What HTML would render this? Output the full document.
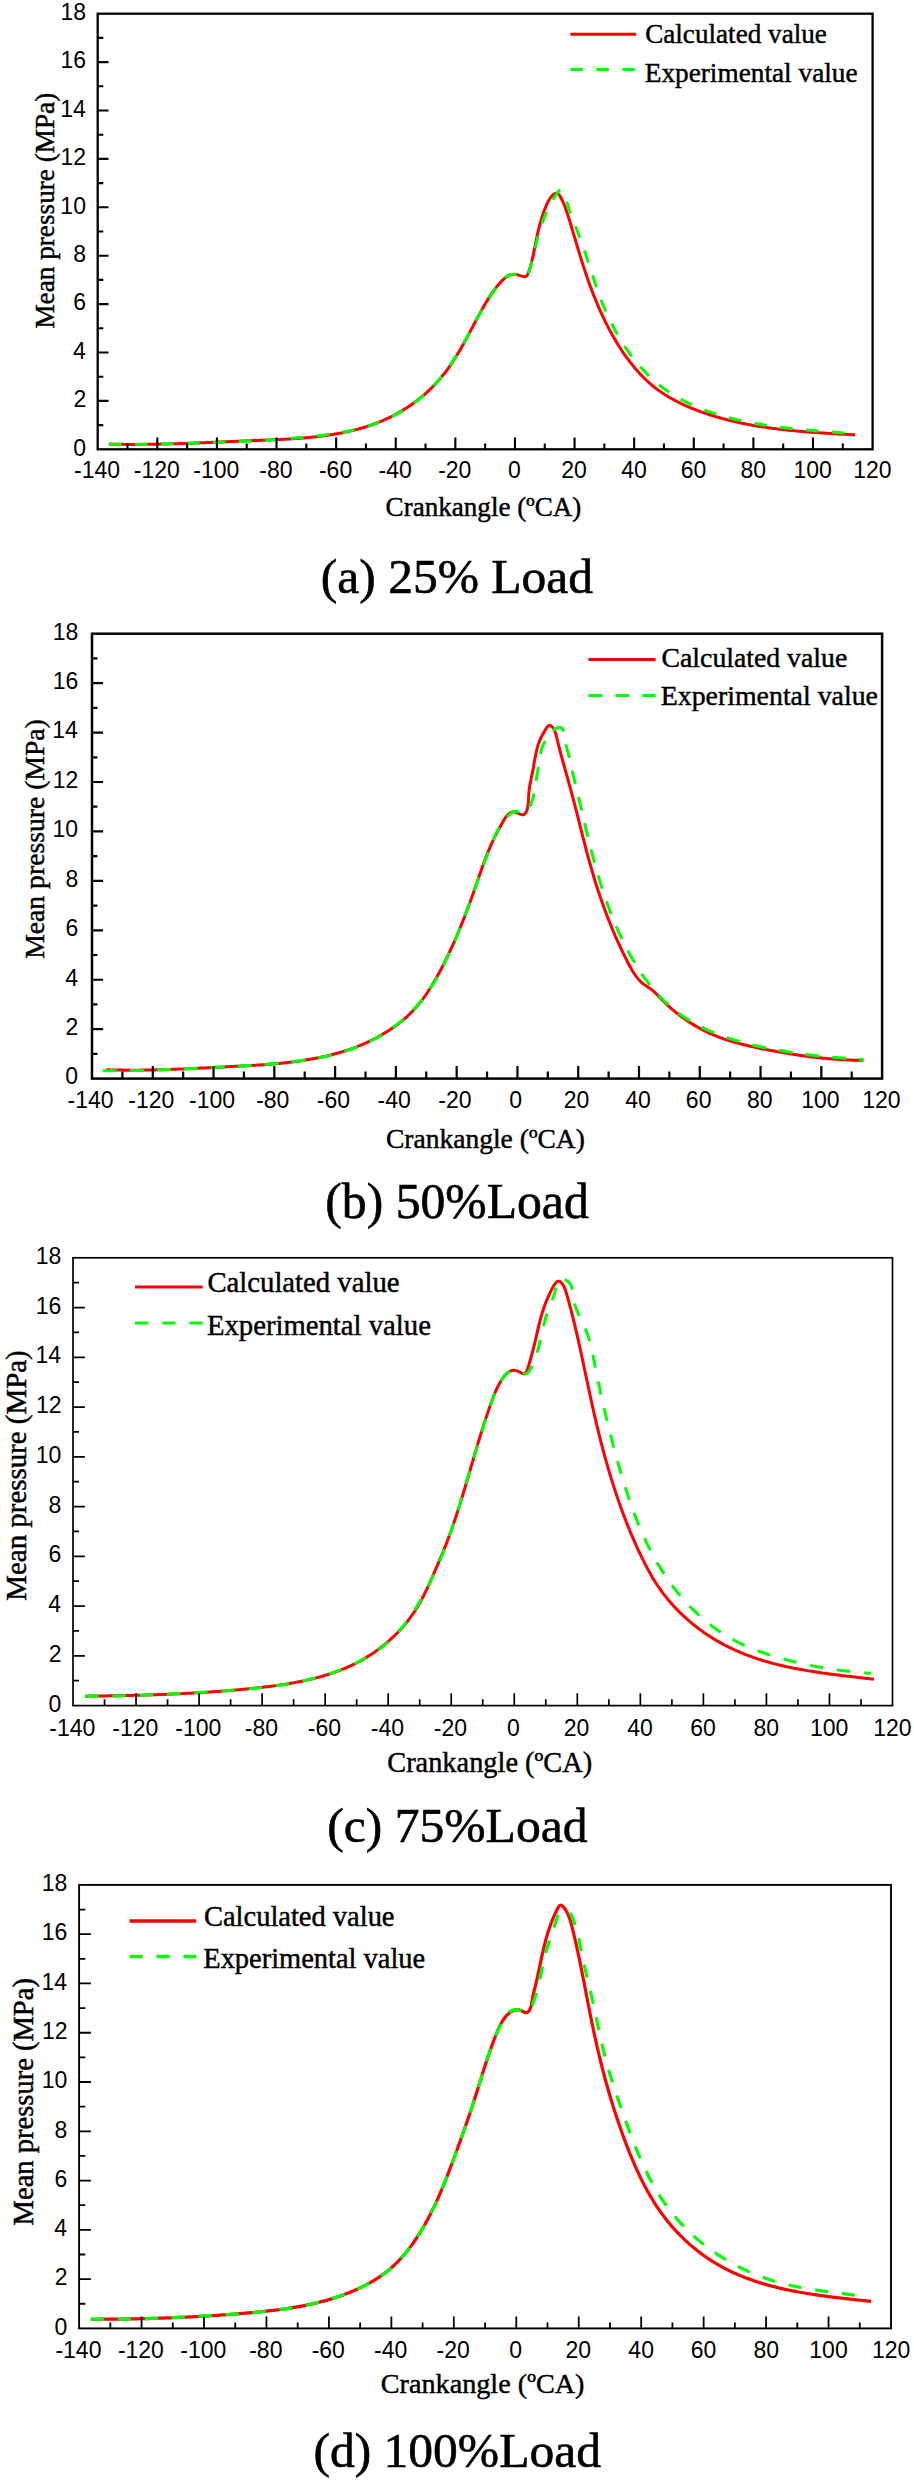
<!DOCTYPE html>
<html><head><meta charset="utf-8"><title>Mean pressure vs crank angle at 25/50/75/100% load</title>
<style>
html,body{margin:0;padding:0;background:#fff;width:914px;height:2480px;overflow:hidden}
svg{display:block}
.s{font-family:"Liberation Sans",sans-serif;fill:#000}
.r{font-family:"Liberation Serif",serif;fill:#000;stroke:#000;stroke-width:.45px}
.c{stroke-width:.6px}
</style></head><body>
<svg width="914" height="2480" viewBox="0 0 914 2480">
<rect width="914" height="2480" fill="#fff"/>
<polyline points="108.79,444.11 110.31,444.14 111.84,444.18 113.37,444.21 114.89,444.24 116.42,444.27 117.94,444.29 119.46,444.31 120.98,444.33 122.5,444.35 124.02,444.37 125.53,444.38 127.05,444.39 128.56,444.4 130.07,444.4 131.58,444.41 133.09,444.41 134.6,444.41 136.11,444.41 137.61,444.4 139.12,444.4 140.62,444.39 142.12,444.38 143.63,444.37 145.13,444.35 146.63,444.34 148.13,444.32 149.63,444.3 151.12,444.28 152.62,444.26 154.12,444.24 155.61,444.21 157.11,444.18 158.6,444.15 160.1,444.12 161.59,444.09 163.08,444.06 164.57,444.02 166.06,443.99 167.55,443.95 169.04,443.91 170.53,443.87 172.02,443.83 173.51,443.79 175,443.74 176.49,443.7 177.98,443.65 179.46,443.6 180.95,443.56 182.44,443.51 183.93,443.46 185.41,443.4 186.9,443.35 188.39,443.3 189.87,443.24 191.36,443.19 192.84,443.13 194.33,443.08 195.82,443.02 197.3,442.96 198.79,442.9 200.28,442.84 201.76,442.78 203.25,442.72 204.74,442.66 206.22,442.6 207.71,442.54 209.2,442.48 210.69,442.41 212.17,442.35 213.66,442.29 215.15,442.22 216.64,442.16 218.13,442.1 219.62,442.03 221.11,441.97 222.6,441.9 224.09,441.84 225.59,441.77 227.08,441.71 228.57,441.64 230.07,441.57 231.56,441.51 233.06,441.44 234.55,441.38 236.05,441.31 237.55,441.25 239.05,441.19 240.54,441.12 242.05,441.06 243.55,440.99 245.05,440.93 246.55,440.87 248.06,440.8 249.56,440.74 251.07,440.68 252.57,440.62 254.08,440.56 255.59,440.5 257.1,440.44 258.61,440.38 260.13,440.32 261.64,440.26 263.15,440.2 264.67,440.14 266.18,440.08 267.7,440.01 269.21,439.95 270.73,439.89 272.24,439.82 273.76,439.75 275.28,439.69 276.8,439.62 278.31,439.55 279.83,439.47 281.35,439.4 282.87,439.32 284.38,439.24 285.9,439.16 287.42,439.07 288.93,438.98 290.45,438.89 291.96,438.8 293.48,438.7 294.99,438.6 296.51,438.49 298.02,438.39 299.53,438.27 301.04,438.16 302.55,438.04 304.06,437.91 305.57,437.78 307.08,437.65 308.58,437.51 310.09,437.37 311.59,437.22 313.09,437.07 314.59,436.91 316.09,436.75 317.59,436.58 319.09,436.4 320.58,436.22 322.07,436.03 323.57,435.84 325.05,435.64 326.54,435.43 328.03,435.22 329.51,435 330.99,434.77 332.47,434.54 333.95,434.3 335.42,434.05 336.89,433.79 338.36,433.53 339.83,433.26 341.29,432.98 342.75,432.69 344.21,432.4 345.67,432.09 347.12,431.78 348.57,431.46 350.02,431.13 351.46,430.79 352.91,430.44 354.34,430.09 355.78,429.72 357.21,429.34 358.64,428.96 360.06,428.56 361.49,428.15 362.9,427.74 364.32,427.31 365.73,426.87 367.14,426.43 368.54,425.97 369.94,425.5 371.34,425.02 372.73,424.53 374.12,424.03 375.5,423.51 376.88,422.99 378.26,422.45 379.63,421.9 380.99,421.34 382.36,420.76 383.71,420.18 385.07,419.58 386.42,418.97 387.76,418.34 389.1,417.71 390.43,417.06 391.76,416.39 393.09,415.72 394.41,415.03 395.72,414.33 397.03,413.61 398.33,412.88 399.63,412.14 400.92,411.39 402.21,410.63 403.48,409.85 404.76,409.06 406.02,408.26 407.28,407.44 408.53,406.62 409.77,405.78 411.01,404.93 412.23,404.07 413.45,403.19 414.67,402.31 415.87,401.41 417.07,400.5 418.25,399.59 419.43,398.65 420.6,397.71 421.76,396.76 422.91,395.8 424.06,394.82 425.19,393.84 426.31,392.84 427.42,391.83 428.53,390.81 429.62,389.79 430.7,388.75 431.77,387.7 432.83,386.64 433.88,385.57 434.92,384.49 435.95,383.4 436.96,382.3 437.97,381.19 438.96,380.07 439.94,378.94 440.91,377.8 441.87,376.65 442.81,375.5 443.74,374.33 444.66,373.15 445.57,371.97 446.47,370.78 447.35,369.58 448.23,368.37 449.1,367.15 449.95,365.93 450.8,364.69 451.64,363.46 452.47,362.21 453.29,360.96 454.1,359.7 454.9,358.44 455.7,357.17 456.49,355.89 457.27,354.61 458.04,353.33 458.81,352.04 459.57,350.75 460.33,349.45 461.08,348.14 461.83,346.84 462.57,345.53 463.3,344.21 464.04,342.9 464.76,341.58 465.49,340.26 466.21,338.93 466.93,337.61 467.64,336.28 468.36,334.95 469.07,333.62 469.78,332.29 470.49,330.96 471.19,329.63 471.9,328.29 472.6,326.96 473.31,325.63 474.01,324.29 474.72,322.96 475.43,321.63 476.13,320.3 476.84,318.97 477.55,317.65 478.27,316.32 478.98,315 479.7,313.68 480.42,312.36 481.14,311.05 481.87,309.73 482.6,308.43 483.34,307.12 484.08,305.82 484.83,304.53 485.58,303.24 486.34,301.95 487.11,300.67 487.89,299.4 488.68,298.14 489.49,296.88 490.3,295.64 491.13,294.4 491.97,293.17 492.82,291.95 493.69,290.74 494.58,289.54 495.48,288.35 496.4,287.17 497.34,286.01 498.3,284.86 499.28,283.72 500.28,282.6 501.3,281.49 502.35,280.41 503.43,279.38 504.53,278.41 505.67,277.51 506.85,276.69 508.06,275.98 509.31,275.37 510.61,274.89 511.95,274.56 513.34,274.37 514.79,274.36 516.28,274.53 517.84,274.88 519.43,275.39 521,275.93 522.53,276.39 523.95,276.67 525.23,276.64 526.31,276.21 527.18,275.31 527.88,274.06 528.47,272.6 529,271.07 529.49,269.54 529.96,268.03 530.41,266.52 530.84,265.03 531.24,263.54 531.63,262.06 532,260.59 532.35,259.12 532.69,257.65 533.01,256.19 533.33,254.73 533.64,253.27 533.93,251.81 534.23,250.34 534.52,248.88 534.8,247.41 535.09,245.94 535.37,244.46 535.66,242.98 535.95,241.5 536.24,240.02 536.53,238.54 536.84,237.07 537.15,235.6 537.46,234.14 537.79,232.68 538.13,231.23 538.47,229.79 538.83,228.35 539.19,226.92 539.57,225.49 539.96,224.07 540.36,222.65 540.78,221.23 541.2,219.82 541.64,218.4 542.09,216.99 542.56,215.58 543.04,214.16 543.54,212.75 544.05,211.33 544.57,209.91 545.12,208.49 545.67,207.07 546.25,205.64 546.86,204.22 547.51,202.82 548.21,201.43 548.97,200.07 549.79,198.75 550.69,197.46 551.67,196.23 552.73,195.09 553.84,194.15 554.98,193.5 556.12,193.25 557.22,193.43 558.26,194.01 559.2,194.97 560.05,196.19 560.82,197.56 561.56,198.97 562.25,200.38 562.9,201.8 563.53,203.21 564.12,204.62 564.69,206.03 565.23,207.44 565.75,208.86 566.25,210.27 566.73,211.68 567.2,213.1 567.66,214.51 568.11,215.93 568.56,217.35 569,218.77 569.44,220.2 569.88,221.62 570.31,223.05 570.75,224.48 571.18,225.91 571.61,227.34 572.04,228.77 572.47,230.21 572.9,231.64 573.33,233.08 573.76,234.51 574.19,235.95 574.61,237.39 575.04,238.83 575.47,240.27 575.89,241.71 576.32,243.14 576.75,244.58 577.18,246.02 577.61,247.46 578.04,248.9 578.47,250.34 578.91,251.78 579.35,253.22 579.78,254.66 580.22,256.09 580.67,257.53 581.11,258.96 581.56,260.4 582.01,261.83 582.46,263.26 582.92,264.69 583.37,266.12 583.84,267.55 584.3,268.98 584.77,270.4 585.24,271.82 585.72,273.24 586.2,274.66 586.68,276.08 587.17,277.5 587.66,278.91 588.16,280.32 588.66,281.74 589.16,283.14 589.67,284.55 590.18,285.96 590.7,287.36 591.22,288.76 591.75,290.16 592.28,291.56 592.82,292.95 593.36,294.34 593.91,295.73 594.46,297.12 595.01,298.5 595.57,299.89 596.14,301.27 596.71,302.65 597.29,304.02 597.88,305.39 598.47,306.77 599.06,308.13 599.66,309.5 600.27,310.86 600.88,312.22 601.5,313.58 602.13,314.93 602.76,316.28 603.4,317.63 604.04,318.98 604.69,320.32 605.35,321.66 606.02,323 606.69,324.33 607.37,325.66 608.05,326.99 608.75,328.31 609.45,329.63 610.15,330.95 610.87,332.26 611.59,333.57 612.32,334.88 613.06,336.19 613.8,337.49 614.56,338.78 615.32,340.08 616.08,341.37 616.86,342.65 617.65,343.93 618.44,345.21 619.24,346.49 620.05,347.76 620.87,349.02 621.69,350.29 622.53,351.54 623.37,352.79 624.23,354.04 625.09,355.28 625.96,356.51 626.84,357.74 627.73,358.96 628.63,360.17 629.54,361.37 630.46,362.57 631.38,363.76 632.32,364.94 633.27,366.11 634.22,367.27 635.19,368.42 636.17,369.57 637.15,370.7 638.15,371.82 639.16,372.93 640.18,374.03 641.21,375.12 642.25,376.2 643.3,377.26 644.36,378.32 645.43,379.36 646.51,380.38 647.6,381.4 648.71,382.4 649.82,383.39 650.95,384.36 652.09,385.32 653.24,386.26 654.4,387.19 655.58,388.1 656.76,389 657.96,389.88 659.16,390.75 660.38,391.61 661.61,392.45 662.84,393.28 664.09,394.09 665.34,394.89 666.61,395.68 667.88,396.45 669.17,397.21 670.46,397.96 671.75,398.69 673.06,399.42 674.38,400.13 675.7,400.83 677.03,401.51 678.36,402.19 679.7,402.85 681.05,403.5 682.4,404.15 683.76,404.78 685.13,405.4 686.5,406.01 687.88,406.61 689.26,407.2 690.64,407.77 692.03,408.34 693.42,408.9 694.82,409.46 696.22,410 697.62,410.53 699.03,411.05 700.44,411.57 701.85,412.08 703.26,412.57 704.68,413.06 706.1,413.55 707.52,414.02 708.94,414.49 710.36,414.95 711.79,415.4 713.22,415.84 714.65,416.28 716.08,416.7 717.51,417.13 718.95,417.54 720.39,417.94 721.83,418.34 723.27,418.74 724.71,419.12 726.16,419.5 727.6,419.87 729.05,420.23 730.5,420.59 731.95,420.94 733.41,421.28 734.86,421.62 736.32,421.95 737.78,422.28 739.24,422.6 740.7,422.91 742.16,423.22 743.63,423.52 745.09,423.81 746.56,424.1 748.03,424.38 749.49,424.66 750.97,424.93 752.44,425.2 753.91,425.46 755.38,425.71 756.86,425.96 758.34,426.21 759.81,426.45 761.29,426.68 762.77,426.91 764.25,427.14 765.73,427.36 767.22,427.58 768.7,427.79 770.18,427.99 771.67,428.19 773.15,428.39 774.64,428.59 776.13,428.77 777.62,428.96 779.1,429.14 780.59,429.32 782.08,429.49 783.57,429.66 785.07,429.82 786.56,429.99 788.05,430.14 789.54,430.3 791.04,430.45 792.53,430.6 794.02,430.74 795.52,430.88 797.01,431.02 798.51,431.16 800,431.29 801.5,431.42 802.99,431.55 804.49,431.67 805.99,431.79 807.48,431.91 808.98,432.03 810.47,432.14 811.97,432.25 813.47,432.36 814.96,432.47 816.46,432.57 817.96,432.68 819.45,432.78 820.95,432.88 822.44,432.98 823.94,433.07 825.44,433.17 826.93,433.26 828.43,433.35 829.92,433.44 831.41,433.53 832.91,433.62 834.4,433.71 835.89,433.79 837.39,433.88 838.88,433.96 840.37,434.04 841.86,434.13 843.35,434.21 844.84,434.29 846.33,434.37 847.82,434.45 849.31,434.53 850.79,434.61 852.28,434.69 853.76,434.77 855.25,434.85" fill="none" stroke="#f00" stroke-width="3" stroke-linejoin="round"/>
<polyline points="109.05,444.28 110.54,444.3 112.03,444.31 113.52,444.32 115.01,444.33 116.5,444.33 117.99,444.34 119.48,444.34 120.97,444.35 122.46,444.35 123.96,444.35 125.45,444.35 126.94,444.34 128.44,444.34 129.93,444.33 131.43,444.33 132.93,444.32 134.42,444.31 135.92,444.3 137.42,444.29 138.92,444.28 140.41,444.26 141.91,444.25 143.41,444.23 144.91,444.21 146.41,444.19 147.91,444.17 149.41,444.15 150.91,444.13 152.41,444.11 153.91,444.08 155.41,444.06 156.92,444.03 158.42,444 159.92,443.98 161.42,443.95 162.92,443.92 164.42,443.89 165.93,443.85 167.43,443.82 168.93,443.79 170.43,443.75 171.94,443.72 173.44,443.68 174.94,443.64 176.44,443.61 177.94,443.57 179.45,443.53 180.95,443.49 182.45,443.44 183.95,443.4 185.45,443.36 186.96,443.32 188.46,443.27 189.96,443.23 191.46,443.18 192.96,443.14 194.46,443.09 195.96,443.04 197.46,442.99 198.96,442.94 200.46,442.9 201.96,442.85 203.46,442.8 204.96,442.74 206.45,442.69 207.95,442.64 209.45,442.59 210.94,442.54 212.44,442.48 213.94,442.43 215.43,442.38 216.93,442.32 218.42,442.27 219.92,442.21 221.41,442.16 222.9,442.1 224.39,442.04 225.89,441.99 227.38,441.93 228.87,441.87 230.36,441.81 231.85,441.75 233.34,441.69 234.83,441.63 236.32,441.57 237.81,441.5 239.3,441.44 240.79,441.37 242.28,441.31 243.77,441.24 245.26,441.17 246.75,441.1 248.23,441.03 249.72,440.96 251.21,440.89 252.7,440.82 254.19,440.74 255.68,440.66 257.17,440.59 258.65,440.51 260.14,440.43 261.63,440.35 263.12,440.26 264.61,440.18 266.1,440.09 267.59,440 269.08,439.91 270.57,439.82 272.06,439.73 273.55,439.63 275.04,439.54 276.54,439.44 278.03,439.34 279.52,439.23 281.01,439.13 282.51,439.02 284,438.92 285.49,438.81 286.99,438.69 288.48,438.58 289.98,438.46 291.47,438.34 292.97,438.22 294.47,438.1 295.97,437.97 297.47,437.84 298.96,437.71 300.47,437.58 301.97,437.45 303.47,437.31 304.97,437.17 306.47,437.02 307.98,436.88 309.48,436.73 310.99,436.58 312.49,436.42 313.99,436.26 315.5,436.1 317,435.93 318.51,435.76 320.01,435.58 321.52,435.4 323.02,435.22 324.52,435.03 326.02,434.83 327.52,434.63 329.02,434.42 330.52,434.21 332.02,433.99 333.51,433.76 335.01,433.53 336.5,433.29 337.99,433.05 339.48,432.8 340.96,432.54 342.45,432.27 343.93,431.99 345.41,431.71 346.89,431.42 348.36,431.12 349.83,430.81 351.3,430.49 352.77,430.17 354.23,429.83 355.69,429.49 357.15,429.14 358.6,428.77 360.05,428.4 361.49,428.02 362.93,427.62 364.37,427.22 365.81,426.8 367.23,426.38 368.66,425.94 370.08,425.49 371.5,425.03 372.91,424.56 374.31,424.08 375.72,423.58 377.11,423.07 378.5,422.55 379.89,422.02 381.27,421.47 382.65,420.92 384.02,420.34 385.38,419.76 386.74,419.16 388.09,418.54 389.44,417.92 390.78,417.27 392.11,416.62 393.44,415.95 394.76,415.26 396.07,414.56 397.38,413.85 398.68,413.12 399.97,412.38 401.26,411.63 402.54,410.86 403.81,410.08 405.07,409.29 406.33,408.48 407.58,407.66 408.82,406.83 410.05,405.98 411.28,405.12 412.49,404.25 413.7,403.37 414.9,402.48 416.09,401.57 417.27,400.65 418.45,399.72 419.61,398.78 420.77,397.82 421.91,396.86 423.05,395.88 424.18,394.89 425.29,393.89 426.4,392.88 427.5,391.86 428.59,390.83 429.67,389.79 430.73,388.73 431.79,387.67 432.84,386.6 433.88,385.51 434.9,384.42 435.92,383.31 436.92,382.2 437.92,381.07 438.9,379.94 439.87,378.8 440.83,377.64 441.78,376.48 442.72,375.31 443.64,374.13 444.56,372.94 445.46,371.75 446.36,370.54 447.24,369.33 448.12,368.11 448.98,366.88 449.84,365.65 450.69,364.41 451.52,363.16 452.35,361.91 453.18,360.65 453.99,359.39 454.8,358.12 455.6,356.84 456.39,355.57 457.17,354.28 457.95,353 458.72,351.71 459.49,350.41 460.25,349.12 461.01,347.82 461.76,346.51 462.51,345.21 463.25,343.9 463.99,342.59 464.72,341.28 465.45,339.97 466.18,338.66 466.9,337.35 467.62,336.04 468.34,334.72 469.06,333.41 469.77,332.1 470.49,330.79 471.2,329.48 471.91,328.17 472.62,326.86 473.33,325.55 474.04,324.24 474.75,322.94 475.46,321.63 476.18,320.33 476.89,319.03 477.61,317.73 478.33,316.43 479.06,315.13 479.79,313.83 480.52,312.54 481.25,311.24 482,309.95 482.74,308.66 483.5,307.37 484.25,306.08 485.02,304.8 485.79,303.52 486.57,302.24 487.35,300.96 488.15,299.68 488.95,298.4 489.76,297.13 490.58,295.86 491.42,294.59 492.26,293.33 493.11,292.06 493.97,290.8 494.84,289.54 495.73,288.29 496.62,287.03 497.53,285.79 498.46,284.56 499.41,283.35 500.37,282.18 501.37,281.05 502.39,279.98 503.44,278.98 504.52,278.05 505.64,277.21 506.81,276.46 508.01,275.81 509.26,275.29 510.56,274.88 511.91,274.61 513.31,274.49 514.78,274.52 516.3,274.72 517.88,275.09 519.5,275.58 521.11,276.08 522.66,276.49 524.1,276.71 525.39,276.62 526.47,276.13 527.34,275.21 528.03,273.95 528.61,272.5 529.13,270.98 529.62,269.46 530.09,267.95 530.54,266.45 530.97,264.95 531.38,263.45 531.78,261.96 532.16,260.47 532.53,258.99 532.89,257.51 533.25,256.04 533.59,254.57 533.94,253.1 534.28,251.64 534.61,250.18 534.95,248.73 535.3,247.27 535.65,245.82 536,244.38 536.35,242.94 536.71,241.5 537.08,240.06 537.46,238.63 537.84,237.2 538.23,235.77 538.62,234.35 539.03,232.93 539.44,231.51 539.87,230.09 540.31,228.68 540.75,227.27 541.21,225.87 541.69,224.46 542.17,223.06 542.67,221.67 543.18,220.27 543.71,218.88 544.25,217.49 544.81,216.1 545.39,214.72 545.98,213.34 546.59,211.96 547.22,210.59 547.87,209.21 548.53,207.84 549.22,206.47 549.93,205.11 550.66,203.74 551.41,202.38 552.18,201.02 552.98,199.67 553.8,198.32 554.63,196.97 555.47,195.65 556.32,194.36 557.16,193.1 557.99,191.93 558.83,190.97 559.67,190.34 560.53,190.2 561.42,190.57 562.29,191.37 563.12,192.49 563.9,193.8 564.58,195.2 565.17,196.62 565.69,198.07 566.15,199.53 566.58,201.01 566.99,202.48 567.41,203.95 567.84,205.41 568.29,206.87 568.75,208.31 569.23,209.76 569.71,211.19 570.21,212.62 570.72,214.05 571.24,215.47 571.76,216.88 572.3,218.29 572.84,219.7 573.38,221.11 573.93,222.51 574.48,223.91 575.03,225.3 575.59,226.7 576.14,228.09 576.7,229.49 577.25,230.88 577.8,232.28 578.34,233.67 578.88,235.06 579.42,236.46 579.95,237.86 580.47,239.26 580.98,240.66 581.49,242.06 582,243.46 582.49,244.87 582.99,246.28 583.48,247.68 583.96,249.09 584.44,250.5 584.92,251.91 585.39,253.32 585.86,254.74 586.33,256.15 586.79,257.56 587.25,258.98 587.71,260.39 588.17,261.81 588.63,263.22 589.09,264.64 589.54,266.06 590,267.47 590.45,268.89 590.91,270.31 591.37,271.72 591.83,273.14 592.29,274.56 592.75,275.97 593.21,277.39 593.67,278.8 594.14,280.22 594.61,281.63 595.09,283.05 595.56,284.46 596.04,285.87 596.53,287.28 597.02,288.69 597.51,290.1 598.01,291.51 598.52,292.92 599.03,294.33 599.55,295.73 600.07,297.13 600.6,298.54 601.14,299.94 601.68,301.34 602.23,302.73 602.79,304.13 603.36,305.52 603.93,306.91 604.52,308.3 605.11,309.69 605.71,311.08 606.32,312.46 606.94,313.84 607.57,315.22 608.2,316.59 608.84,317.96 609.5,319.33 610.16,320.69 610.82,322.05 611.5,323.41 612.19,324.76 612.88,326.11 613.58,327.45 614.3,328.79 615.02,330.12 615.74,331.45 616.48,332.78 617.23,334.1 617.98,335.41 618.75,336.72 619.52,338.02 620.3,339.32 621.09,340.61 621.89,341.9 622.69,343.18 623.51,344.45 624.33,345.71 625.17,346.97 626.01,348.23 626.86,349.47 627.72,350.71 628.59,351.94 629.47,353.16 630.36,354.38 631.25,355.59 632.16,356.79 633.07,357.98 634,359.16 634.93,360.33 635.87,361.5 636.82,362.66 637.78,363.81 638.75,364.94 639.73,366.07 640.72,367.19 641.71,368.3 642.72,369.41 643.73,370.5 644.76,371.58 645.79,372.65 646.83,373.71 647.88,374.76 648.95,375.8 650.02,376.82 651.1,377.84 652.19,378.85 653.28,379.84 654.39,380.82 655.51,381.79 656.64,382.75 657.77,383.7 658.92,384.64 660.08,385.56 661.24,386.47 662.42,387.37 663.6,388.25 664.79,389.12 666,389.98 667.21,390.83 668.43,391.66 669.66,392.49 670.9,393.3 672.15,394.09 673.4,394.88 674.67,395.65 675.94,396.42 677.22,397.17 678.5,397.91 679.8,398.63 681.1,399.35 682.41,400.05 683.73,400.75 685.05,401.43 686.39,402.1 687.72,402.76 689.07,403.41 690.42,404.05 691.78,404.68 693.14,405.3 694.51,405.91 695.88,406.51 697.26,407.09 698.65,407.67 700.04,408.24 701.44,408.8 702.84,409.35 704.25,409.88 705.66,410.41 707.08,410.93 708.5,411.44 709.92,411.95 711.35,412.44 712.79,412.92 714.22,413.39 715.67,413.86 717.11,414.32 718.56,414.77 720.01,415.21 721.46,415.64 722.92,416.06 724.38,416.48 725.85,416.88 727.31,417.28 728.78,417.67 730.25,418.06 731.72,418.43 733.2,418.8 734.67,419.16 736.15,419.52 737.63,419.86 739.11,420.2 740.59,420.53 742.08,420.86 743.56,421.18 745.04,421.49 746.53,421.8 748.01,422.1 749.5,422.39 750.99,422.67 752.47,422.95 753.96,423.23 755.44,423.5 756.93,423.76 758.41,424.01 759.9,424.27 761.38,424.51 762.86,424.75 764.34,424.99 765.82,425.21 767.3,425.44 768.78,425.66 770.26,425.87 771.73,426.08 773.21,426.29 774.69,426.49 776.16,426.68 777.64,426.88 779.11,427.06 780.59,427.25 782.06,427.43 783.53,427.6 785.01,427.78 786.48,427.95 787.95,428.11 789.43,428.27 790.9,428.43 792.38,428.59 793.85,428.74 795.32,428.89 796.8,429.04 798.27,429.18 799.75,429.33 801.22,429.47 802.7,429.6 804.17,429.74 805.65,429.87 807.13,430 808.61,430.13 810.09,430.26 811.57,430.39 813.05,430.51 814.53,430.64 816.01,430.76 817.5,430.88 818.98,431 820.47,431.12 821.96,431.24 823.45,431.36 824.94,431.48 826.43,431.6 827.92,431.72 829.41,431.83 830.91,431.95 832.41,432.07 833.91,432.19 835.41,432.31 836.91,432.43 838.42,432.55 839.92,432.67 841.43,432.79 842.94,432.91 844.45,433.03 845.97,433.16 847.49,433.28 849,433.41 850.53,433.54 852.05,433.67 853.58,433.8 855.1,433.93" fill="none" stroke="#0f0" stroke-width="3" stroke-dasharray="12.5 13.5" stroke-dashoffset="0"/>
<path d="M127.5 449.3V443.4M157.31 449.3V437.5M187.11 449.3V443.4M216.92 449.3V437.5M246.72 449.3V443.4M276.52 449.3V437.5M306.33 449.3V443.4M336.13 449.3V437.5M365.93 449.3V443.4M395.74 449.3V437.5M425.54 449.3V443.4M455.35 449.3V437.5M485.15 449.3V443.4M514.95 449.3V437.5M544.76 449.3V443.4M574.56 449.3V437.5M604.37 449.3V443.4M634.17 449.3V437.5M663.97 449.3V443.4M693.78 449.3V437.5M723.58 449.3V443.4M753.38 449.3V437.5M783.19 449.3V443.4M812.99 449.3V437.5M842.8 449.3V443.4M97.7 425.1H103.3M97.7 400.9H108.5M97.7 376.7H103.3M97.7 352.5H108.5M97.7 328.3H103.3M97.7 304.1H108.5M97.7 279.9H103.3M97.7 255.7H108.5M97.7 231.5H103.3M97.7 207.3H108.5M97.7 183.1H103.3M97.7 158.9H108.5M97.7 134.7H103.3M97.7 110.5H108.5M97.7 86.3H103.3M97.7 62.1H108.5M97.7 37.9H103.3" stroke="#000" stroke-width="2.1" fill="none"/>
<rect x="97.7" y="13.7" width="774.9" height="435.6" fill="none" stroke="#000" stroke-width="2.3"/>
<text x="74.12" y="477.6" class="s" font-size="23">-140</text>
<text x="133.73" y="477.6" class="s" font-size="23">-120</text>
<text x="193.34" y="477.6" class="s" font-size="23">-100</text>
<text x="259.35" y="477.6" class="s" font-size="23">-80</text>
<text x="318.96" y="477.6" class="s" font-size="23">-60</text>
<text x="378.56" y="477.6" class="s" font-size="23">-40</text>
<text x="438.17" y="477.6" class="s" font-size="23">-20</text>
<text x="508.05" y="477.6" class="s" font-size="23">0</text>
<text x="561.28" y="477.6" class="s" font-size="23">20</text>
<text x="621.32" y="477.6" class="s" font-size="23">40</text>
<text x="680.76" y="477.6" class="s" font-size="23">60</text>
<text x="740.58" y="477.6" class="s" font-size="23">80</text>
<text x="793.53" y="477.6" class="s" font-size="23">100</text>
<text x="853.27" y="477.6" class="s" font-size="23">120</text>
<text x="73.17" y="455.55" class="s" font-size="23">0</text>
<text x="73.4" y="407.15" class="s" font-size="23">2</text>
<text x="72.94" y="358.75" class="s" font-size="23">4</text>
<text x="73.24" y="310.35" class="s" font-size="23">6</text>
<text x="73.24" y="261.95" class="s" font-size="23">8</text>
<text x="60.36" y="213.55" class="s" font-size="23">10</text>
<text x="60.59" y="165.15" class="s" font-size="23">12</text>
<text x="60.13" y="116.75" class="s" font-size="23">14</text>
<text x="60.44" y="68.35" class="s" font-size="23">16</text>
<text x="60.44" y="19.95" class="s" font-size="23">18</text>
<text x="385.57" y="516" class="r" font-size="27.1">Crankangle (ºCA)</text>
<text transform="translate(53.7 328.58) rotate(-90)" class="r" font-size="27.22">Mean pressure (MPa)</text>
<path d="M570.4 34.3H636.2" stroke="#f00" stroke-width="3"/>
<path d="M570.4 69.5H636.2" stroke="#0f0" stroke-width="3" stroke-dasharray="12.5 13.5"/>
<text x="645.16" y="43" class="r" font-size="27.16">Calculated value</text>
<text x="644.72" y="81.6" class="r" font-size="27.29">Experimental value</text>
<text x="320.8" y="593" class="r c" font-size="49.53">(a) 25% Load</text>
<polyline points="106.25,1069.76 107.77,1069.81 109.3,1069.86 110.82,1069.9 112.34,1069.94 113.86,1069.97 115.38,1070.01 116.9,1070.03 118.42,1070.06 119.93,1070.08 121.45,1070.11 122.96,1070.12 124.47,1070.14 125.98,1070.15 127.49,1070.16 129,1070.16 130.51,1070.17 132.01,1070.17 133.52,1070.17 135.02,1070.16 136.52,1070.16 138.03,1070.15 139.53,1070.14 141.03,1070.12 142.53,1070.1 144.02,1070.09 145.52,1070.06 147.02,1070.04 148.52,1070.02 150.01,1069.99 151.51,1069.96 153,1069.93 154.49,1069.89 155.99,1069.86 157.48,1069.82 158.97,1069.78 160.46,1069.74 161.96,1069.7 163.45,1069.65 164.94,1069.61 166.43,1069.56 167.92,1069.51 169.41,1069.46 170.9,1069.4 172.39,1069.35 173.87,1069.3 175.36,1069.24 176.85,1069.18 178.34,1069.12 179.83,1069.06 181.32,1069 182.8,1068.94 184.29,1068.87 185.78,1068.81 187.27,1068.74 188.76,1068.67 190.25,1068.61 191.74,1068.54 193.22,1068.47 194.71,1068.4 196.2,1068.33 197.69,1068.26 199.18,1068.18 200.67,1068.11 202.16,1068.04 203.65,1067.96 205.15,1067.89 206.64,1067.81 208.13,1067.74 209.62,1067.66 211.12,1067.59 212.61,1067.51 214.11,1067.43 215.6,1067.36 217.1,1067.28 218.6,1067.21 220.09,1067.13 221.59,1067.05 223.09,1066.98 224.59,1066.9 226.09,1066.82 227.59,1066.75 229.1,1066.67 230.6,1066.6 232.1,1066.52 233.61,1066.44 235.11,1066.37 236.62,1066.29 238.13,1066.21 239.63,1066.14 241.14,1066.06 242.65,1065.98 244.16,1065.89 245.67,1065.81 247.18,1065.73 248.68,1065.64 250.19,1065.55 251.7,1065.47 253.21,1065.38 254.72,1065.28 256.23,1065.19 257.74,1065.09 259.25,1064.99 260.76,1064.89 262.27,1064.79 263.77,1064.68 265.28,1064.57 266.79,1064.46 268.3,1064.34 269.8,1064.22 271.31,1064.1 272.81,1063.97 274.32,1063.84 275.82,1063.71 277.33,1063.57 278.83,1063.43 280.33,1063.28 281.83,1063.14 283.33,1062.98 284.83,1062.82 286.33,1062.66 287.82,1062.49 289.32,1062.32 290.81,1062.14 292.3,1061.96 293.79,1061.77 295.28,1061.58 296.77,1061.38 298.26,1061.18 299.75,1060.97 301.23,1060.75 302.71,1060.53 304.19,1060.31 305.67,1060.07 307.15,1059.83 308.62,1059.59 310.1,1059.34 311.57,1059.08 313.04,1058.81 314.51,1058.54 315.97,1058.26 317.43,1057.97 318.9,1057.68 320.35,1057.37 321.81,1057.06 323.27,1056.75 324.72,1056.42 326.17,1056.09 327.61,1055.75 329.06,1055.4 330.5,1055.04 331.94,1054.68 333.38,1054.31 334.81,1053.92 336.24,1053.53 337.67,1053.13 339.09,1052.72 340.52,1052.3 341.94,1051.88 343.35,1051.44 344.77,1050.99 346.18,1050.54 347.58,1050.07 348.99,1049.6 350.39,1049.11 351.78,1048.62 353.18,1048.11 354.57,1047.59 355.95,1047.07 357.34,1046.53 358.72,1045.98 360.09,1045.42 361.46,1044.85 362.83,1044.27 364.2,1043.68 365.56,1043.08 366.91,1042.46 368.27,1041.83 369.62,1041.2 370.96,1040.55 372.3,1039.88 373.64,1039.21 374.97,1038.52 376.3,1037.83 377.62,1037.11 378.94,1036.39 380.26,1035.65 381.57,1034.91 382.87,1034.14 384.17,1033.37 385.46,1032.58 386.75,1031.78 388.03,1030.97 389.3,1030.15 390.56,1029.31 391.82,1028.46 393.07,1027.6 394.31,1026.73 395.54,1025.84 396.76,1024.94 397.98,1024.03 399.18,1023.1 400.37,1022.17 401.55,1021.22 402.72,1020.26 403.88,1019.28 405.03,1018.3 406.16,1017.3 407.28,1016.28 408.39,1015.26 409.49,1014.22 410.57,1013.17 411.64,1012.11 412.7,1011.04 413.74,1009.95 414.76,1008.85 415.77,1007.74 416.77,1006.62 417.75,1005.48 418.71,1004.33 419.66,1003.17 420.59,1002 421.51,1000.82 422.42,999.63 423.31,998.43 424.19,997.22 425.06,996 425.92,994.77 426.76,993.53 427.59,992.29 428.42,991.03 429.23,989.77 430.03,988.51 430.82,987.24 431.61,985.96 432.38,984.67 433.15,983.39 433.91,982.09 434.66,980.79 435.41,979.49 436.14,978.19 436.87,976.88 437.6,975.57 438.32,974.25 439.03,972.94 439.74,971.62 440.45,970.3 441.15,968.98 441.84,967.65 442.53,966.33 443.21,965 443.89,963.67 444.57,962.33 445.23,961 445.9,959.66 446.56,958.32 447.21,956.98 447.86,955.63 448.51,954.28 449.15,952.94 449.79,951.58 450.42,950.23 451.05,948.88 451.67,947.52 452.29,946.16 452.9,944.8 453.51,943.44 454.12,942.07 454.72,940.71 455.32,939.34 455.92,937.97 456.51,936.59 457.1,935.22 457.68,933.84 458.26,932.47 458.84,931.09 459.41,929.7 459.98,928.32 460.55,926.94 461.11,925.55 461.67,924.16 462.23,922.77 462.78,921.38 463.33,919.98 463.88,918.59 464.42,917.19 464.96,915.79 465.5,914.39 466.04,912.99 466.57,911.59 467.1,910.18 467.63,908.77 468.16,907.37 468.68,905.96 469.2,904.54 469.72,903.13 470.23,901.72 470.75,900.3 471.26,898.88 471.77,897.46 472.27,896.04 472.78,894.62 473.28,893.2 473.78,891.77 474.28,890.35 474.78,888.92 475.28,887.49 475.77,886.06 476.26,884.63 476.76,883.2 477.25,881.77 477.74,880.34 478.23,878.9 478.72,877.47 479.21,876.04 479.7,874.61 480.2,873.18 480.69,871.75 481.19,870.33 481.69,868.9 482.19,867.48 482.69,866.06 483.2,864.65 483.72,863.24 484.23,861.83 484.75,860.42 485.28,859.02 485.81,857.63 486.34,856.24 486.88,854.85 487.43,853.47 487.98,852.09 488.54,850.72 489.11,849.36 489.68,848 490.26,846.65 490.85,845.31 491.45,843.98 492.05,842.65 492.67,841.33 493.29,840.02 493.93,838.71 494.57,837.42 495.23,836.13 495.89,834.84 496.57,833.54 497.26,832.23 497.97,830.91 498.69,829.58 499.42,828.22 500.18,826.83 500.94,825.42 501.73,823.97 502.53,822.5 503.36,821.02 504.22,819.57 505.1,818.17 506.03,816.85 507,815.63 508.01,814.53 509.07,813.59 510.19,812.83 511.36,812.28 512.6,811.96 513.9,811.89 515.28,812.11 516.72,812.59 518.18,813.22 519.63,813.87 521.02,814.41 522.32,814.73 523.47,814.68 524.48,814.23 525.33,813.44 526.05,812.35 526.65,811.04 527.15,809.57 527.54,808 527.85,806.4 528.09,804.81 528.26,803.25 528.39,801.71 528.48,800.19 528.55,798.68 528.61,797.19 528.68,795.71 528.75,794.23 528.86,792.76 529,791.29 529.17,789.82 529.36,788.35 529.59,786.89 529.84,785.42 530.1,783.96 530.38,782.49 530.68,781.02 530.98,779.56 531.29,778.09 531.6,776.62 531.92,775.15 532.22,773.67 532.52,772.2 532.81,770.72 533.09,769.23 533.36,767.75 533.62,766.26 533.88,764.78 534.14,763.29 534.39,761.81 534.65,760.32 534.92,758.84 535.19,757.36 535.47,755.89 535.76,754.42 536.07,752.96 536.39,751.5 536.74,750.05 537.1,748.61 537.49,747.17 537.91,745.75 538.35,744.33 538.82,742.93 539.33,741.53 539.87,740.15 540.46,738.79 541.08,737.43 541.74,736.09 542.45,734.77 543.21,733.45 544,732.13 544.82,730.78 545.66,729.38 546.51,727.96 547.4,726.68 548.33,725.73 549.33,725.29 550.38,725.47 551.46,726.17 552.49,727.24 553.42,728.52 554.2,729.87 554.85,731.29 555.4,732.74 555.86,734.23 556.27,735.73 556.63,737.24 556.99,738.75 557.34,740.24 557.7,741.72 558.06,743.19 558.42,744.66 558.79,746.11 559.16,747.55 559.54,748.99 559.92,750.43 560.29,751.86 560.68,753.3 561.06,754.73 561.45,756.16 561.84,757.6 562.23,759.03 562.62,760.47 563.02,761.91 563.41,763.35 563.81,764.78 564.21,766.22 564.61,767.67 565.01,769.11 565.41,770.55 565.82,771.99 566.22,773.44 566.62,774.88 567.03,776.32 567.43,777.77 567.83,779.22 568.23,780.66 568.64,782.11 569.04,783.56 569.44,785.01 569.84,786.45 570.24,787.9 570.63,789.35 571.03,790.8 571.42,792.25 571.81,793.7 572.2,795.15 572.59,796.6 572.98,798.06 573.36,799.51 573.74,800.96 574.12,802.41 574.5,803.86 574.88,805.32 575.25,806.77 575.63,808.22 576,809.68 576.37,811.13 576.74,812.58 577.11,814.03 577.48,815.49 577.85,816.94 578.22,818.39 578.58,819.85 578.95,821.3 579.32,822.75 579.68,824.21 580.05,825.66 580.42,827.11 580.78,828.56 581.15,830.02 581.51,831.47 581.88,832.92 582.25,834.37 582.62,835.82 582.99,837.28 583.36,838.73 583.73,840.18 584.1,841.63 584.48,843.08 584.85,844.53 585.23,845.98 585.6,847.42 585.98,848.87 586.36,850.32 586.75,851.77 587.13,853.21 587.52,854.66 587.91,856.11 588.3,857.55 588.69,859 589.09,860.44 589.49,861.88 589.89,863.33 590.29,864.77 590.7,866.21 591.11,867.65 591.52,869.09 591.93,870.53 592.35,871.97 592.78,873.41 593.2,874.84 593.63,876.28 594.06,877.72 594.5,879.15 594.94,880.58 595.38,882.02 595.83,883.45 596.28,884.88 596.74,886.31 597.19,887.74 597.66,889.16 598.12,890.59 598.59,892.01 599.06,893.44 599.54,894.86 600.02,896.28 600.5,897.7 600.99,899.12 601.48,900.54 601.98,901.96 602.48,903.37 602.98,904.78 603.49,906.2 604,907.61 604.52,909.02 605.03,910.42 605.56,911.83 606.08,913.24 606.62,914.64 607.15,916.04 607.69,917.44 608.23,918.84 608.78,920.23 609.33,921.63 609.89,923.02 610.45,924.41 611.01,925.8 611.58,927.19 612.15,928.58 612.73,929.96 613.31,931.34 613.9,932.72 614.49,934.1 615.08,935.48 615.68,936.85 616.29,938.22 616.89,939.59 617.51,940.96 618.12,942.33 618.74,943.69 619.37,945.05 620,946.41 620.63,947.77 621.27,949.12 621.92,950.48 622.57,951.83 623.22,953.17 623.88,954.52 624.54,955.86 625.21,957.2 625.88,958.54 626.55,959.88 627.24,961.21 627.92,962.54 628.61,963.87 629.31,965.19 630.02,966.51 630.73,967.83 631.47,969.13 632.22,970.43 633,971.71 633.8,972.98 634.63,974.24 635.5,975.48 636.4,976.7 637.33,977.89 638.31,979.05 639.31,980.18 640.36,981.26 641.44,982.29 642.55,983.27 643.71,984.2 644.89,985.05 646.11,985.86 647.33,986.64 648.55,987.43 649.75,988.25 650.92,989.11 652.05,990.02 653.17,990.97 654.26,991.96 655.34,992.97 656.41,994 657.46,995.06 658.51,996.13 659.55,997.21 660.6,998.29 661.64,999.37 662.7,1000.45 663.76,1001.52 664.83,1002.57 665.92,1003.62 667.01,1004.65 668.12,1005.68 669.23,1006.69 670.35,1007.7 671.48,1008.69 672.62,1009.67 673.78,1010.65 674.93,1011.61 676.1,1012.55 677.28,1013.49 678.47,1014.42 679.66,1015.33 680.86,1016.24 682.07,1017.13 683.29,1018.01 684.52,1018.88 685.76,1019.73 687,1020.58 688.25,1021.41 689.51,1022.23 690.77,1023.04 692.05,1023.84 693.33,1024.62 694.61,1025.39 695.91,1026.15 697.21,1026.9 698.52,1027.63 699.83,1028.35 701.15,1029.06 702.48,1029.75 703.81,1030.43 705.15,1031.1 706.5,1031.76 707.85,1032.4 709.21,1033.03 710.57,1033.64 711.94,1034.24 713.32,1034.83 714.7,1035.41 716.08,1035.97 717.47,1036.52 718.87,1037.05 720.27,1037.57 721.67,1038.08 723.08,1038.58 724.49,1039.07 725.91,1039.55 727.33,1040.01 728.75,1040.47 730.18,1040.91 731.61,1041.35 733.05,1041.78 734.49,1042.19 735.93,1042.6 737.38,1043 738.82,1043.39 740.27,1043.77 741.73,1044.15 743.18,1044.51 744.64,1044.87 746.1,1045.23 747.56,1045.57 749.03,1045.92 750.49,1046.25 751.96,1046.58 753.43,1046.9 754.9,1047.22 756.37,1047.54 757.84,1047.85 759.31,1048.16 760.79,1048.46 762.26,1048.76 763.73,1049.06 765.21,1049.35 766.68,1049.64 768.16,1049.93 769.63,1050.21 771.11,1050.5 772.58,1050.77 774.06,1051.05 775.54,1051.32 777.01,1051.59 778.49,1051.86 779.97,1052.12 781.45,1052.38 782.92,1052.64 784.4,1052.89 785.88,1053.14 787.36,1053.39 788.84,1053.63 790.32,1053.87 791.8,1054.11 793.28,1054.34 794.76,1054.57 796.24,1054.8 797.73,1055.02 799.21,1055.23 800.69,1055.45 802.17,1055.66 803.66,1055.86 805.14,1056.07 806.63,1056.26 808.11,1056.46 809.6,1056.65 811.08,1056.83 812.57,1057.01 814.06,1057.19 815.54,1057.36 817.03,1057.53 818.52,1057.69 820.01,1057.85 821.5,1058.01 822.99,1058.16 824.48,1058.3 825.97,1058.44 827.46,1058.58 828.95,1058.71 830.44,1058.84 831.93,1058.96 833.43,1059.08 834.92,1059.19 836.41,1059.3 837.91,1059.4 839.4,1059.5 840.9,1059.59 842.4,1059.68 843.89,1059.76 845.39,1059.84 846.89,1059.91 848.39,1059.98 849.89,1060.04 851.39,1060.09 852.89,1060.14 854.39,1060.19 855.89,1060.23 857.39,1060.26 858.9,1060.29 860.4,1060.31 861.91,1060.33 863.41,1060.34" fill="none" stroke="#f00" stroke-width="3" stroke-linejoin="round"/>
<polyline points="102.9,1070.83 104.4,1070.82 105.9,1070.82 107.4,1070.81 108.9,1070.81 110.4,1070.8 111.9,1070.79 113.4,1070.78 114.9,1070.77 116.4,1070.75 117.9,1070.74 119.39,1070.72 120.89,1070.7 122.39,1070.68 123.89,1070.66 125.39,1070.64 126.89,1070.62 128.39,1070.59 129.89,1070.57 131.39,1070.54 132.89,1070.51 134.39,1070.48 135.89,1070.45 137.39,1070.42 138.89,1070.39 140.39,1070.35 141.89,1070.32 143.38,1070.28 144.88,1070.24 146.38,1070.21 147.88,1070.17 149.38,1070.12 150.88,1070.08 152.38,1070.04 153.88,1070 155.38,1069.95 156.88,1069.9 158.38,1069.86 159.87,1069.81 161.37,1069.76 162.87,1069.71 164.37,1069.66 165.87,1069.6 167.37,1069.55 168.87,1069.5 170.37,1069.44 171.86,1069.39 173.36,1069.33 174.86,1069.27 176.36,1069.21 177.86,1069.15 179.36,1069.09 180.86,1069.03 182.35,1068.97 183.85,1068.91 185.35,1068.84 186.85,1068.78 188.35,1068.71 189.85,1068.65 191.34,1068.58 192.84,1068.51 194.34,1068.45 195.84,1068.38 197.34,1068.31 198.83,1068.24 200.33,1068.17 201.83,1068.1 203.33,1068.02 204.82,1067.95 206.32,1067.88 207.82,1067.8 209.32,1067.73 210.82,1067.66 212.31,1067.58 213.81,1067.5 215.31,1067.43 216.8,1067.35 218.3,1067.27 219.8,1067.19 221.3,1067.11 222.79,1067.03 224.29,1066.95 225.79,1066.87 227.28,1066.79 228.78,1066.71 230.28,1066.62 231.77,1066.54 233.27,1066.45 234.77,1066.36 236.26,1066.27 237.76,1066.18 239.26,1066.09 240.75,1066 242.25,1065.91 243.75,1065.81 245.24,1065.71 246.74,1065.62 248.24,1065.52 249.73,1065.42 251.23,1065.32 252.73,1065.21 254.22,1065.11 255.72,1065 257.21,1064.89 258.71,1064.78 260.21,1064.67 261.7,1064.56 263.2,1064.45 264.69,1064.33 266.19,1064.21 267.69,1064.09 269.18,1063.97 270.68,1063.85 272.17,1063.72 273.67,1063.59 275.16,1063.46 276.66,1063.33 278.15,1063.19 279.65,1063.06 281.14,1062.92 282.64,1062.77 284.13,1062.62 285.63,1062.47 287.12,1062.32 288.61,1062.16 290.1,1061.99 291.59,1061.83 293.08,1061.66 294.57,1061.48 296.06,1061.3 297.55,1061.11 299.04,1060.92 300.52,1060.72 302.01,1060.52 303.49,1060.31 304.97,1060.1 306.46,1059.88 307.94,1059.65 309.41,1059.42 310.89,1059.18 312.37,1058.93 313.84,1058.68 315.32,1058.42 316.79,1058.15 318.26,1057.87 319.73,1057.59 321.2,1057.3 322.66,1057 324.13,1056.69 325.59,1056.37 327.05,1056.05 328.51,1055.71 329.96,1055.37 331.42,1055.02 332.87,1054.66 334.32,1054.29 335.77,1053.9 337.21,1053.51 338.66,1053.11 340.1,1052.7 341.54,1052.28 342.97,1051.85 344.41,1051.4 345.84,1050.95 347.27,1050.48 348.69,1050.01 350.11,1049.52 351.53,1049.02 352.95,1048.51 354.36,1047.99 355.76,1047.46 357.17,1046.92 358.57,1046.36 359.96,1045.8 361.35,1045.22 362.73,1044.63 364.11,1044.03 365.49,1043.42 366.86,1042.79 368.22,1042.16 369.58,1041.51 370.93,1040.85 372.27,1040.18 373.61,1039.5 374.94,1038.8 376.27,1038.1 377.59,1037.38 378.9,1036.64 380.21,1035.9 381.5,1035.14 382.79,1034.38 384.07,1033.59 385.35,1032.8 386.61,1031.99 387.87,1031.18 389.12,1030.34 390.36,1029.5 391.59,1028.64 392.82,1027.77 394.03,1026.89 395.24,1025.99 396.43,1025.09 397.62,1024.17 398.79,1023.23 399.96,1022.29 401.11,1021.33 402.26,1020.36 403.39,1019.38 404.52,1018.39 405.63,1017.38 406.74,1016.37 407.83,1015.34 408.91,1014.31 409.98,1013.26 411.04,1012.2 412.08,1011.13 413.12,1010.05 414.14,1008.96 415.15,1007.86 416.15,1006.75 417.14,1005.63 418.12,1004.5 419.08,1003.36 420.03,1002.21 420.97,1001.05 421.9,999.89 422.82,998.71 423.72,997.53 424.62,996.34 425.5,995.13 426.38,993.93 427.24,992.71 428.1,991.48 428.94,990.25 429.77,989.01 430.6,987.77 431.41,986.51 432.22,985.25 433.01,983.98 433.8,982.71 434.58,981.43 435.34,980.14 436.1,978.85 436.86,977.55 437.6,976.25 438.34,974.94 439.06,973.63 439.78,972.31 440.5,970.99 441.2,969.66 441.9,968.32 442.59,966.99 443.27,965.64 443.95,964.3 444.62,962.95 445.29,961.6 445.94,960.24 446.6,958.88 447.24,957.52 447.88,956.15 448.52,954.78 449.15,953.41 449.77,952.04 450.39,950.66 451,949.28 451.61,947.9 452.22,946.52 452.82,945.14 453.41,943.75 454,942.37 454.59,940.98 455.18,939.59 455.76,938.2 456.33,936.82 456.91,935.43 457.48,934.04 458.05,932.65 458.61,931.26 459.17,929.87 459.73,928.47 460.29,927.08 460.84,925.69 461.39,924.3 461.94,922.9 462.48,921.51 463.03,920.12 463.57,918.72 464.11,917.33 464.64,915.93 465.18,914.53 465.71,913.14 466.24,911.74 466.77,910.34 467.3,908.94 467.82,907.55 468.35,906.15 468.87,904.75 469.39,903.35 469.91,901.95 470.43,900.55 470.95,899.15 471.47,897.75 471.98,896.35 472.5,894.95 473.01,893.54 473.53,892.14 474.04,890.74 474.56,889.34 475.07,887.93 475.58,886.53 476.09,885.13 476.61,883.72 477.12,882.32 477.63,880.91 478.15,879.51 478.66,878.1 479.18,876.7 479.69,875.29 480.21,873.88 480.72,872.48 481.24,871.07 481.76,869.66 482.27,868.26 482.79,866.85 483.31,865.44 483.84,864.03 484.36,862.63 484.88,861.22 485.41,859.81 485.94,858.4 486.47,856.99 487,855.58 487.53,854.17 488.07,852.76 488.6,851.35 489.14,849.95 489.69,848.54 490.24,847.13 490.79,845.73 491.35,844.33 491.92,842.93 492.5,841.54 493.09,840.15 493.69,838.78 494.3,837.41 494.93,836.04 495.57,834.69 496.23,833.35 496.91,832.02 497.61,830.7 498.33,829.39 499.06,828.1 499.82,826.83 500.61,825.56 501.42,824.32 502.25,823.09 503.11,821.88 504,820.69 504.92,819.52 505.87,818.37 506.85,817.24 507.86,816.13 508.91,815.05 510,814 511.14,813.04 512.35,812.24 513.64,811.68 515.05,811.42 516.57,811.51 518.16,811.82 519.76,812.19 521.3,812.45 522.74,812.44 524.05,812.1 525.23,811.5 526.31,810.68 527.29,809.71 528.18,808.64 529,807.5 529.74,806.29 530.42,805.02 531.04,803.69 531.6,802.32 532.1,800.9 532.56,799.44 532.97,797.94 533.35,796.42 533.69,794.88 534,793.32 534.29,791.76 534.55,790.18 534.81,788.61 535.05,787.04 535.29,785.49 535.53,783.95 535.77,782.43 536.01,780.94 536.26,779.46 536.51,778 536.76,776.55 537.02,775.11 537.27,773.68 537.53,772.25 537.78,770.82 538.04,769.4 538.29,767.97 538.54,766.54 538.79,765.11 539.03,763.66 539.28,762.2 539.51,760.72 539.75,759.23 539.97,757.72 540.2,756.19 540.44,754.66 540.69,753.12 540.98,751.6 541.32,750.09 541.71,748.62 542.16,747.19 542.7,745.81 543.32,744.49 544.05,743.24 544.86,742.05 545.75,740.9 546.68,739.76 547.62,738.62 548.56,737.45 549.46,736.23 550.31,734.94 551.12,733.59 551.94,732.25 552.84,730.97 553.88,729.82 555.1,728.84 556.44,728.08 557.84,727.57 559.2,727.34 560.46,727.42 561.53,727.84 562.42,728.59 563.13,729.62 563.7,730.88 564.15,732.35 564.5,733.96 564.79,735.69 565.02,737.48 565.23,739.3 565.45,741.09 565.69,742.83 565.98,744.47 566.3,746.02 566.66,747.5 567.04,748.93 567.44,750.32 567.83,751.69 568.23,753.06 568.6,754.45 568.96,755.85 569.31,757.28 569.64,758.72 569.96,760.18 570.28,761.64 570.58,763.12 570.89,764.6 571.19,766.08 571.5,767.56 571.81,769.03 572.13,770.5 572.45,771.97 572.78,773.42 573.12,774.87 573.46,776.32 573.8,777.77 574.15,779.21 574.5,780.64 574.86,782.08 575.21,783.52 575.57,784.95 575.93,786.39 576.29,787.82 576.65,789.26 577.01,790.7 577.37,792.14 577.72,793.58 578.08,795.03 578.43,796.48 578.78,797.94 579.13,799.4 579.47,800.86 579.82,802.32 580.16,803.79 580.51,805.26 580.85,806.73 581.19,808.2 581.53,809.67 581.87,811.15 582.21,812.62 582.55,814.1 582.89,815.57 583.22,817.05 583.56,818.52 583.9,820 584.25,821.47 584.59,822.94 584.93,824.41 585.27,825.88 585.62,827.35 585.96,828.81 586.31,830.28 586.66,831.74 587.01,833.2 587.36,834.66 587.71,836.12 588.07,837.58 588.42,839.04 588.78,840.49 589.14,841.95 589.5,843.4 589.86,844.86 590.22,846.31 590.59,847.76 590.96,849.21 591.33,850.65 591.7,852.1 592.08,853.55 592.46,854.99 592.84,856.43 593.22,857.87 593.61,859.32 593.99,860.75 594.39,862.19 594.78,863.63 595.18,865.07 595.58,866.5 595.98,867.93 596.38,869.37 596.79,870.8 597.21,872.23 597.62,873.66 598.04,875.08 598.46,876.51 598.89,877.94 599.32,879.36 599.75,880.78 600.19,882.21 600.63,883.63 601.08,885.05 601.52,886.47 601.98,887.88 602.44,889.3 602.9,890.72 603.36,892.13 603.83,893.54 604.31,894.96 604.79,896.37 605.27,897.78 605.76,899.19 606.25,900.59 606.75,902 607.25,903.41 607.76,904.81 608.27,906.21 608.79,907.62 609.31,909.02 609.84,910.42 610.37,911.82 610.91,913.22 611.45,914.61 612,916.01 612.56,917.4 613.12,918.8 613.69,920.19 614.26,921.58 614.84,922.97 615.42,924.36 616.01,925.75 616.61,927.14 617.21,928.53 617.82,929.91 618.43,931.3 619.05,932.68 619.68,934.06 620.31,935.44 620.95,936.82 621.6,938.19 622.26,939.57 622.92,940.93 623.58,942.3 624.26,943.67 624.94,945.03 625.62,946.38 626.32,947.74 627.02,949.09 627.73,950.44 628.44,951.78 629.17,953.12 629.9,954.45 630.63,955.78 631.38,957.11 632.13,958.43 632.89,959.74 633.66,961.05 634.43,962.36 635.22,963.66 636.01,964.95 636.8,966.24 637.61,967.52 638.42,968.8 639.25,970.06 640.07,971.33 640.91,972.58 641.76,973.83 642.61,975.08 643.47,976.31 644.34,977.54 645.22,978.76 646.11,979.97 647.01,981.18 647.91,982.37 648.82,983.56 649.74,984.74 650.67,985.91 651.61,987.07 652.56,988.23 653.52,989.37 654.48,990.51 655.46,991.63 656.44,992.75 657.43,993.86 658.43,994.95 659.45,996.04 660.47,997.12 661.5,998.18 662.53,999.24 663.58,1000.28 664.64,1001.32 665.71,1002.34 666.78,1003.35 667.87,1004.35 668.97,1005.34 670.07,1006.31 671.19,1007.28 672.32,1008.23 673.45,1009.17 674.6,1010.1 675.75,1011.01 676.92,1011.91 678.1,1012.8 679.28,1013.68 680.48,1014.54 681.68,1015.39 682.9,1016.23 684.12,1017.06 685.36,1017.87 686.6,1018.68 687.85,1019.47 689.11,1020.24 690.38,1021.01 691.66,1021.76 692.94,1022.51 694.23,1023.24 695.54,1023.96 696.84,1024.67 698.16,1025.37 699.48,1026.05 700.81,1026.73 702.15,1027.39 703.5,1028.05 704.85,1028.69 706.21,1029.33 707.57,1029.95 708.94,1030.56 710.32,1031.17 711.7,1031.76 713.09,1032.34 714.48,1032.92 715.88,1033.48 717.29,1034.04 718.7,1034.58 720.11,1035.12 721.53,1035.65 722.95,1036.17 724.38,1036.68 725.82,1037.18 727.25,1037.67 728.69,1038.15 730.14,1038.63 731.58,1039.09 733.04,1039.55 734.49,1040 735.95,1040.45 737.41,1040.88 738.87,1041.31 740.34,1041.73 741.81,1042.14 743.28,1042.54 744.75,1042.94 746.23,1043.33 747.7,1043.71 749.18,1044.09 750.66,1044.46 752.14,1044.82 753.63,1045.18 755.11,1045.53 756.59,1045.87 758.08,1046.21 759.56,1046.54 761.05,1046.87 762.54,1047.18 764.02,1047.5 765.51,1047.81 766.99,1048.11 768.48,1048.41 769.96,1048.7 771.45,1048.98 772.93,1049.26 774.41,1049.54 775.89,1049.81 777.37,1050.08 778.85,1050.34 780.32,1050.6 781.8,1050.85 783.27,1051.1 784.74,1051.35 786.21,1051.59 787.68,1051.82 789.15,1052.05 790.62,1052.28 792.08,1052.51 793.55,1052.73 795.01,1052.94 796.48,1053.15 797.94,1053.36 799.4,1053.56 800.87,1053.76 802.33,1053.96 803.79,1054.15 805.25,1054.34 806.72,1054.53 808.18,1054.71 809.65,1054.89 811.11,1055.06 812.58,1055.24 814.04,1055.4 815.51,1055.57 816.98,1055.73 818.44,1055.89 819.91,1056.05 821.39,1056.2 822.86,1056.35 824.33,1056.49 825.81,1056.64 827.28,1056.78 828.76,1056.92 830.24,1057.05 831.73,1057.18 833.21,1057.31 834.7,1057.44 836.19,1057.57 837.68,1057.69 839.18,1057.81 840.67,1057.93 842.17,1058.04 843.67,1058.16 845.18,1058.27 846.69,1058.38 848.2,1058.48 849.71,1058.59 851.23,1058.69 852.75,1058.79 854.28,1058.89 855.81,1058.98 857.34,1059.08 858.88,1059.17 860.42,1059.26 861.96,1059.35 863.51,1059.44" fill="none" stroke="#0f0" stroke-width="3" stroke-dasharray="14 13" stroke-dashoffset="0"/>
<path d="M122.39 1078.6V1071.6M152.78 1078.6V1066.1M183.17 1078.6V1071.6M213.55 1078.6V1066.1M243.94 1078.6V1071.6M274.33 1078.6V1066.1M304.72 1078.6V1071.6M335.11 1078.6V1066.1M365.5 1078.6V1071.6M395.88 1078.6V1066.1M426.27 1078.6V1071.6M456.66 1078.6V1066.1M487.05 1078.6V1071.6M517.44 1078.6V1066.1M547.83 1078.6V1071.6M578.22 1078.6V1066.1M608.6 1078.6V1071.6M638.99 1078.6V1066.1M669.38 1078.6V1071.6M699.77 1078.6V1066.1M730.16 1078.6V1071.6M760.55 1078.6V1066.1M790.93 1078.6V1071.6M821.32 1078.6V1066.1M851.71 1078.6V1071.6M92 1053.88H97.4M92 1029.17H103.1M92 1004.45H97.4M92 979.73H103.1M92 955.02H97.4M92 930.3H103.1M92 905.58H97.4M92 880.87H103.1M92 856.15H97.4M92 831.43H103.1M92 806.72H97.4M92 782H103.1M92 757.28H97.4M92 732.57H103.1M92 707.85H97.4M92 683.13H103.1M92 658.42H97.4" stroke="#000" stroke-width="2.2" fill="none"/>
<rect x="92" y="633.7" width="790.1" height="444.9" fill="none" stroke="#000" stroke-width="2.5"/>
<text x="67.52" y="1107.6" class="s" font-size="23">-140</text>
<text x="128.26" y="1107.6" class="s" font-size="23">-120</text>
<text x="188.99" y="1107.6" class="s" font-size="23">-100</text>
<text x="256.13" y="1107.6" class="s" font-size="23">-80</text>
<text x="316.86" y="1107.6" class="s" font-size="23">-60</text>
<text x="377.6" y="1107.6" class="s" font-size="23">-40</text>
<text x="438.33" y="1107.6" class="s" font-size="23">-20</text>
<text x="509.34" y="1107.6" class="s" font-size="23">0</text>
<text x="563.83" y="1107.6" class="s" font-size="23">20</text>
<text x="625.15" y="1107.6" class="s" font-size="23">40</text>
<text x="685.85" y="1107.6" class="s" font-size="23">60</text>
<text x="746.94" y="1107.6" class="s" font-size="23">80</text>
<text x="801.16" y="1107.6" class="s" font-size="23">100</text>
<text x="862.17" y="1107.6" class="s" font-size="23">120</text>
<text x="65.37" y="1084.45" class="s" font-size="23">0</text>
<text x="65.6" y="1035.02" class="s" font-size="23">2</text>
<text x="65.14" y="985.58" class="s" font-size="23">4</text>
<text x="65.44" y="936.15" class="s" font-size="23">6</text>
<text x="65.44" y="886.72" class="s" font-size="23">8</text>
<text x="52.56" y="837.28" class="s" font-size="23">10</text>
<text x="52.79" y="787.85" class="s" font-size="23">12</text>
<text x="52.33" y="738.42" class="s" font-size="23">14</text>
<text x="52.64" y="688.98" class="s" font-size="23">16</text>
<text x="52.64" y="639.55" class="s" font-size="23">18</text>
<text x="385.95" y="1147.6" class="r" font-size="27.54">Crankangle (ºCA)</text>
<text transform="translate(44.1 958.79) rotate(-90)" class="r" font-size="27.66">Mean pressure (MPa)</text>
<path d="M588.4 659.5H655.6" stroke="#f00" stroke-width="3"/>
<path d="M588.4 695.5H655.6" stroke="#0f0" stroke-width="3" stroke-dasharray="14 13"/>
<text x="661.54" y="666.5" class="r" font-size="27.76">Calculated value</text>
<text x="660.81" y="705.2" class="r" font-size="27.83">Experimental value</text>
<text x="325.3" y="1217.7" class="r c" font-size="49.68">(b) 50%Load</text>
<polyline points="85.08,1696.16 86.6,1696.15 88.11,1696.13 89.62,1696.11 91.14,1696.1 92.65,1696.08 94.16,1696.06 95.67,1696.04 97.18,1696.02 98.69,1696 100.2,1695.98 101.71,1695.96 103.21,1695.94 104.72,1695.92 106.23,1695.89 107.73,1695.87 109.24,1695.85 110.74,1695.82 112.25,1695.8 113.75,1695.77 115.26,1695.74 116.76,1695.72 118.26,1695.69 119.76,1695.66 121.26,1695.63 122.77,1695.6 124.27,1695.57 125.77,1695.54 127.27,1695.51 128.77,1695.47 130.27,1695.44 131.77,1695.4 133.26,1695.37 134.76,1695.33 136.26,1695.29 137.76,1695.25 139.25,1695.21 140.75,1695.17 142.25,1695.13 143.74,1695.09 145.24,1695.05 146.74,1695 148.23,1694.96 149.73,1694.91 151.22,1694.86 152.72,1694.81 154.21,1694.76 155.71,1694.71 157.2,1694.66 158.69,1694.61 160.19,1694.55 161.68,1694.5 163.17,1694.44 164.67,1694.39 166.16,1694.33 167.65,1694.27 169.15,1694.2 170.64,1694.14 172.13,1694.08 173.62,1694.01 175.12,1693.95 176.61,1693.88 178.1,1693.81 179.59,1693.74 181.08,1693.67 182.58,1693.59 184.07,1693.52 185.56,1693.44 187.05,1693.37 188.54,1693.29 190.03,1693.21 191.53,1693.13 193.02,1693.04 194.51,1692.96 196,1692.87 197.49,1692.78 198.99,1692.69 200.48,1692.6 201.97,1692.51 203.46,1692.42 204.95,1692.32 206.45,1692.22 207.94,1692.13 209.43,1692.03 210.92,1691.92 212.42,1691.82 213.91,1691.71 215.4,1691.61 216.9,1691.5 218.39,1691.39 219.88,1691.27 221.38,1691.16 222.87,1691.04 224.37,1690.93 225.86,1690.81 227.35,1690.69 228.85,1690.56 230.34,1690.44 231.84,1690.31 233.34,1690.18 234.83,1690.05 236.33,1689.92 237.82,1689.78 239.32,1689.65 240.82,1689.51 242.32,1689.37 243.81,1689.22 245.31,1689.08 246.81,1688.93 248.31,1688.78 249.81,1688.63 251.31,1688.48 252.81,1688.33 254.31,1688.17 255.81,1688.01 257.31,1687.85 258.81,1687.68 260.31,1687.52 261.82,1687.35 263.32,1687.17 264.82,1687 266.32,1686.82 267.82,1686.64 269.32,1686.45 270.82,1686.26 272.32,1686.07 273.82,1685.87 275.31,1685.67 276.81,1685.47 278.31,1685.26 279.8,1685.04 281.3,1684.82 282.79,1684.6 284.28,1684.37 285.77,1684.13 287.26,1683.9 288.75,1683.65 290.24,1683.4 291.72,1683.14 293.2,1682.88 294.69,1682.62 296.17,1682.34 297.64,1682.06 299.12,1681.77 300.59,1681.48 302.06,1681.18 303.53,1680.88 305,1680.56 306.46,1680.24 307.92,1679.91 309.38,1679.58 310.84,1679.23 312.29,1678.88 313.75,1678.52 315.19,1678.16 316.64,1677.78 318.08,1677.4 319.52,1677.01 320.96,1676.61 322.39,1676.2 323.82,1675.78 325.24,1675.36 326.67,1674.92 328.08,1674.48 329.5,1674.02 330.91,1673.56 332.32,1673.08 333.72,1672.6 335.12,1672.11 336.52,1671.6 337.91,1671.09 339.29,1670.56 340.68,1670.03 342.05,1669.48 343.43,1668.92 344.8,1668.36 346.16,1667.78 347.52,1667.19 348.87,1666.58 350.22,1665.97 351.57,1665.35 352.91,1664.71 354.24,1664.06 355.57,1663.4 356.9,1662.72 358.21,1662.04 359.53,1661.34 360.83,1660.63 362.14,1659.9 363.43,1659.17 364.72,1658.41 366.01,1657.65 367.29,1656.87 368.56,1656.08 369.82,1655.28 371.08,1654.46 372.34,1653.63 373.58,1652.79 374.82,1651.94 376.05,1651.07 377.27,1650.19 378.49,1649.3 379.69,1648.4 380.89,1647.48 382.08,1646.56 383.27,1645.62 384.44,1644.67 385.61,1643.7 386.76,1642.73 387.91,1641.75 389.04,1640.75 390.17,1639.74 391.29,1638.72 392.4,1637.69 393.49,1636.65 394.58,1635.6 395.66,1634.54 396.72,1633.47 397.78,1632.39 398.82,1631.3 399.85,1630.19 400.87,1629.08 401.88,1627.96 402.88,1626.82 403.87,1625.68 404.84,1624.53 405.8,1623.37 406.75,1622.2 407.68,1621.02 408.6,1619.83 409.51,1618.63 410.41,1617.42 411.29,1616.21 412.16,1614.98 413.01,1613.75 413.85,1612.51 414.68,1611.26 415.49,1610 416.29,1608.73 417.07,1607.46 417.84,1606.17 418.6,1604.89 419.35,1603.59 420.08,1602.29 420.8,1600.98 421.52,1599.66 422.22,1598.34 422.91,1597.02 423.6,1595.69 424.27,1594.35 424.94,1593.01 425.6,1591.67 426.25,1590.32 426.89,1588.97 427.53,1587.61 428.16,1586.25 428.78,1584.89 429.4,1583.53 430.02,1582.16 430.63,1580.79 431.24,1579.42 431.84,1578.05 432.45,1576.68 433.05,1575.31 433.64,1573.93 434.24,1572.56 434.83,1571.19 435.43,1569.81 436.02,1568.44 436.61,1567.07 437.21,1565.69 437.8,1564.32 438.39,1562.95 438.98,1561.58 439.56,1560.2 440.15,1558.83 440.73,1557.45 441.31,1556.08 441.88,1554.7 442.46,1553.32 443.02,1551.94 443.59,1550.56 444.15,1549.17 444.71,1547.79 445.26,1546.4 445.81,1545.01 446.35,1543.62 446.89,1542.22 447.42,1540.83 447.95,1539.43 448.47,1538.03 448.99,1536.63 449.51,1535.22 450.02,1533.82 450.53,1532.41 451.04,1531 451.54,1529.59 452.04,1528.18 452.53,1526.76 453.02,1525.35 453.51,1523.93 453.99,1522.51 454.48,1521.09 454.95,1519.67 455.43,1518.24 455.9,1516.82 456.37,1515.39 456.83,1513.97 457.3,1512.54 457.76,1511.11 458.22,1509.68 458.67,1508.25 459.13,1506.82 459.58,1505.38 460.02,1503.95 460.47,1502.51 460.92,1501.08 461.36,1499.64 461.8,1498.2 462.24,1496.76 462.67,1495.32 463.11,1493.88 463.54,1492.44 463.98,1491 464.41,1489.56 464.84,1488.12 465.27,1486.68 465.69,1485.24 466.12,1483.79 466.54,1482.35 466.97,1480.91 467.39,1479.46 467.82,1478.02 468.24,1476.57 468.66,1475.13 469.08,1473.68 469.5,1472.24 469.92,1470.8 470.34,1469.35 470.76,1467.91 471.18,1466.46 471.6,1465.02 472.02,1463.58 472.44,1462.13 472.87,1460.69 473.29,1459.25 473.71,1457.81 474.13,1456.36 474.55,1454.92 474.98,1453.48 475.4,1452.04 475.83,1450.6 476.25,1449.16 476.68,1447.73 477.11,1446.29 477.54,1444.85 477.97,1443.42 478.4,1441.98 478.83,1440.55 479.27,1439.12 479.71,1437.68 480.15,1436.25 480.59,1434.82 481.03,1433.39 481.47,1431.97 481.92,1430.54 482.37,1429.12 482.82,1427.69 483.27,1426.27 483.73,1424.85 484.18,1423.43 484.64,1422.01 485.11,1420.59 485.57,1419.18 486.04,1417.77 486.51,1416.35 486.99,1414.94 487.46,1413.54 487.94,1412.13 488.43,1410.72 488.92,1409.32 489.41,1407.92 489.9,1406.52 490.4,1405.12 490.9,1403.73 491.4,1402.34 491.91,1400.94 492.42,1399.56 492.94,1398.17 493.46,1396.78 493.99,1395.4 494.53,1394.02 495.09,1392.65 495.66,1391.28 496.25,1389.91 496.87,1388.54 497.51,1387.18 498.18,1385.83 498.89,1384.48 499.64,1383.13 500.42,1381.79 501.25,1380.45 502.12,1379.13 503.05,1377.81 504.02,1376.53 505.03,1375.3 506.09,1374.16 507.19,1373.12 508.33,1372.22 509.51,1371.46 510.72,1370.88 511.97,1370.51 513.25,1370.34 514.56,1370.36 515.89,1370.58 517.25,1370.97 518.63,1371.53 520.03,1372.25 521.41,1373.03 522.72,1373.61 523.88,1373.73 524.88,1373.37 525.75,1372.59 526.51,1371.48 527.16,1370.11 527.75,1368.56 528.27,1366.91 528.77,1365.24 529.24,1363.61 529.7,1362.02 530.14,1360.47 530.57,1358.95 530.99,1357.47 531.39,1356.02 531.79,1354.58 532.17,1353.17 532.55,1351.77 532.91,1350.38 533.27,1348.99 533.63,1347.61 533.97,1346.22 534.32,1344.83 534.66,1343.42 534.99,1342 535.33,1340.57 535.66,1339.13 536,1337.68 536.33,1336.23 536.67,1334.76 537,1333.29 537.34,1331.82 537.68,1330.34 538.03,1328.86 538.38,1327.37 538.73,1325.89 539.09,1324.4 539.46,1322.92 539.83,1321.44 540.22,1319.96 540.61,1318.49 541.01,1317.02 541.42,1315.56 541.85,1314.11 542.28,1312.66 542.73,1311.23 543.19,1309.81 543.67,1308.4 544.16,1307 544.66,1305.61 545.18,1304.23 545.71,1302.86 546.26,1301.5 546.82,1300.14 547.4,1298.78 547.98,1297.43 548.58,1296.08 549.19,1294.72 549.82,1293.36 550.46,1291.99 551.1,1290.62 551.77,1289.24 552.47,1287.87 553.22,1286.5 554.04,1285.16 554.96,1283.85 555.97,1282.63 557.06,1281.67 558.2,1281.15 559.36,1281.23 560.5,1281.88 561.59,1282.95 562.61,1284.3 563.51,1285.78 564.27,1287.27 564.9,1288.74 565.44,1290.19 565.91,1291.64 566.34,1293.08 566.76,1294.51 567.17,1295.95 567.58,1297.39 567.98,1298.83 568.38,1300.27 568.78,1301.72 569.18,1303.16 569.57,1304.6 569.95,1306.05 570.34,1307.49 570.72,1308.94 571.1,1310.39 571.47,1311.83 571.84,1313.28 572.21,1314.73 572.58,1316.18 572.94,1317.63 573.3,1319.08 573.66,1320.54 574.02,1321.99 574.37,1323.44 574.72,1324.9 575.07,1326.35 575.41,1327.81 575.76,1329.26 576.1,1330.72 576.44,1332.17 576.77,1333.63 577.11,1335.09 577.44,1336.55 577.77,1338.01 578.1,1339.47 578.43,1340.93 578.76,1342.39 579.08,1343.85 579.41,1345.31 579.73,1346.77 580.05,1348.23 580.37,1349.7 580.69,1351.16 581.01,1352.62 581.32,1354.08 581.64,1355.55 581.95,1357.01 582.26,1358.48 582.58,1359.94 582.89,1361.4 583.2,1362.87 583.51,1364.33 583.82,1365.8 584.13,1367.26 584.44,1368.73 584.75,1370.19 585.06,1371.66 585.37,1373.13 585.68,1374.59 585.99,1376.06 586.3,1377.52 586.61,1378.99 586.91,1380.45 587.22,1381.92 587.53,1383.39 587.84,1384.85 588.16,1386.32 588.47,1387.78 588.78,1389.25 589.09,1390.71 589.4,1392.18 589.72,1393.64 590.03,1395.11 590.35,1396.57 590.67,1398.04 590.99,1399.5 591.3,1400.97 591.63,1402.43 591.95,1403.89 592.27,1405.36 592.6,1406.82 592.92,1408.28 593.25,1409.75 593.58,1411.21 593.91,1412.67 594.24,1414.13 594.58,1415.59 594.91,1417.05 595.25,1418.51 595.59,1419.97 595.93,1421.43 596.28,1422.89 596.62,1424.35 596.97,1425.81 597.32,1427.26 597.67,1428.72 598.03,1430.18 598.38,1431.63 598.74,1433.09 599.1,1434.54 599.46,1436 599.83,1437.45 600.19,1438.91 600.56,1440.36 600.93,1441.81 601.3,1443.26 601.68,1444.71 602.06,1446.16 602.44,1447.61 602.82,1449.06 603.21,1450.51 603.59,1451.95 603.98,1453.4 604.38,1454.85 604.77,1456.29 605.17,1457.73 605.57,1459.18 605.97,1460.62 606.38,1462.06 606.79,1463.5 607.2,1464.94 607.61,1466.38 608.03,1467.82 608.45,1469.26 608.87,1470.69 609.29,1472.13 609.72,1473.56 610.15,1475 610.59,1476.43 611.02,1477.86 611.46,1479.29 611.91,1480.72 612.35,1482.15 612.8,1483.58 613.25,1485.01 613.71,1486.43 614.17,1487.86 614.63,1489.28 615.09,1490.7 615.56,1492.13 616.03,1493.55 616.51,1494.97 616.99,1496.38 617.47,1497.8 617.95,1499.22 618.44,1500.63 618.93,1502.04 619.43,1503.46 619.93,1504.87 620.43,1506.28 620.94,1507.69 621.45,1509.09 621.96,1510.5 622.48,1511.9 623,1513.31 623.52,1514.71 624.05,1516.11 624.59,1517.51 625.12,1518.91 625.66,1520.3 626.21,1521.7 626.75,1523.09 627.3,1524.49 627.86,1525.88 628.42,1527.27 628.98,1528.65 629.55,1530.04 630.12,1531.43 630.7,1532.81 631.28,1534.19 631.86,1535.57 632.45,1536.95 633.05,1538.33 633.64,1539.71 634.24,1541.08 634.85,1542.45 635.46,1543.82 636.07,1545.19 636.69,1546.56 637.32,1547.93 637.94,1549.29 638.58,1550.65 639.21,1552.01 639.85,1553.37 640.5,1554.72 641.15,1556.07 641.8,1557.42 642.46,1558.76 643.12,1560.1 643.79,1561.44 644.47,1562.77 645.14,1564.1 645.82,1565.42 646.51,1566.74 647.21,1568.06 647.91,1569.37 648.61,1570.68 649.33,1571.98 650.05,1573.28 650.78,1574.57 651.52,1575.86 652.27,1577.14 653.03,1578.42 653.81,1579.69 654.59,1580.96 655.39,1582.22 656.19,1583.48 657.01,1584.73 657.85,1585.98 658.69,1587.22 659.55,1588.45 660.41,1589.68 661.29,1590.9 662.18,1592.11 663.08,1593.32 664,1594.51 664.92,1595.71 665.85,1596.89 666.79,1598.06 667.75,1599.23 668.71,1600.39 669.69,1601.54 670.67,1602.68 671.66,1603.82 672.67,1604.94 673.68,1606.05 674.7,1607.16 675.73,1608.26 676.77,1609.34 677.82,1610.42 678.87,1611.49 679.94,1612.55 681.01,1613.6 682.1,1614.64 683.19,1615.67 684.29,1616.69 685.4,1617.7 686.51,1618.71 687.64,1619.7 688.77,1620.69 689.91,1621.66 691.06,1622.63 692.21,1623.58 693.37,1624.53 694.54,1625.47 695.72,1626.39 696.91,1627.31 698.1,1628.22 699.3,1629.12 700.51,1630.01 701.72,1630.88 702.94,1631.75 704.17,1632.61 705.4,1633.46 706.64,1634.3 707.89,1635.13 709.14,1635.95 710.4,1636.76 711.66,1637.56 712.93,1638.36 714.21,1639.14 715.49,1639.91 716.78,1640.67 718.07,1641.42 719.37,1642.16 720.68,1642.89 721.99,1643.61 723.3,1644.32 724.63,1645.02 725.95,1645.71 727.28,1646.39 728.62,1647.06 729.96,1647.72 731.3,1648.37 732.65,1649.01 734.01,1649.64 735.36,1650.26 736.73,1650.87 738.09,1651.47 739.46,1652.06 740.84,1652.63 742.22,1653.2 743.6,1653.76 744.99,1654.31 746.38,1654.85 747.77,1655.38 749.17,1655.9 750.57,1656.42 751.98,1656.92 753.38,1657.42 754.8,1657.9 756.21,1658.38 757.63,1658.85 759.05,1659.31 760.47,1659.76 761.9,1660.21 763.33,1660.64 764.77,1661.07 766.2,1661.49 767.64,1661.91 769.08,1662.31 770.53,1662.71 771.97,1663.1 773.42,1663.49 774.87,1663.86 776.33,1664.23 777.79,1664.6 779.24,1664.95 780.7,1665.3 782.17,1665.65 783.63,1665.98 785.1,1666.31 786.57,1666.64 788.04,1666.96 789.51,1667.27 790.98,1667.58 792.46,1667.88 793.93,1668.18 795.41,1668.47 796.89,1668.75 798.37,1669.03 799.85,1669.31 801.34,1669.58 802.82,1669.85 804.31,1670.11 805.79,1670.36 807.28,1670.62 808.77,1670.86 810.26,1671.11 811.75,1671.35 813.24,1671.58 814.73,1671.81 816.22,1672.04 817.71,1672.27 819.2,1672.49 820.69,1672.7 822.18,1672.92 823.68,1673.13 825.17,1673.34 826.66,1673.54 828.15,1673.74 829.65,1673.94 831.14,1674.14 832.63,1674.34 834.12,1674.53 835.61,1674.72 837.1,1674.91 838.59,1675.09 840.08,1675.28 841.57,1675.46 843.05,1675.64 844.54,1675.82 846.03,1676 847.51,1676.18 849,1676.35 850.48,1676.53 851.96,1676.7 853.44,1676.87 854.92,1677.05 856.4,1677.22 857.87,1677.39 859.35,1677.56 860.82,1677.73 862.29,1677.9 863.76,1678.08 865.23,1678.25 866.69,1678.42 868.16,1678.59 869.62,1678.76 871.08,1678.94 872.53,1679.11 873.99,1679.29" fill="none" stroke="#f00" stroke-width="3" stroke-linejoin="round"/>
<polyline points="85.19,1695.9 86.69,1695.93 88.19,1695.95 89.69,1695.97 91.2,1695.99 92.7,1696 94.2,1696.01 95.7,1696.02 97.2,1696.03 98.7,1696.03 100.2,1696.03 101.7,1696.03 103.21,1696.03 104.71,1696.03 106.21,1696.02 107.71,1696.01 109.21,1696 110.71,1695.99 112.21,1695.97 113.71,1695.96 115.21,1695.94 116.71,1695.91 118.21,1695.89 119.71,1695.87 121.21,1695.84 122.7,1695.81 124.2,1695.78 125.7,1695.75 127.2,1695.71 128.7,1695.67 130.2,1695.64 131.7,1695.6 133.2,1695.55 134.7,1695.51 136.2,1695.47 137.69,1695.42 139.19,1695.37 140.69,1695.32 142.19,1695.27 143.69,1695.22 145.19,1695.16 146.68,1695.11 148.18,1695.05 149.68,1694.99 151.18,1694.93 152.68,1694.87 154.17,1694.81 155.67,1694.74 157.17,1694.68 158.67,1694.61 160.16,1694.54 161.66,1694.47 163.16,1694.4 164.66,1694.33 166.15,1694.26 167.65,1694.19 169.15,1694.11 170.65,1694.04 172.14,1693.96 173.64,1693.88 175.14,1693.81 176.64,1693.73 178.13,1693.65 179.63,1693.57 181.13,1693.48 182.63,1693.4 184.12,1693.32 185.62,1693.23 187.12,1693.15 188.62,1693.06 190.11,1692.98 191.61,1692.89 193.11,1692.8 194.61,1692.72 196.1,1692.63 197.6,1692.54 199.1,1692.45 200.6,1692.36 202.09,1692.27 203.59,1692.18 205.09,1692.09 206.59,1692 208.08,1691.91 209.58,1691.81 211.08,1691.72 212.58,1691.63 214.07,1691.53 215.57,1691.44 217.07,1691.34 218.57,1691.24 220.06,1691.15 221.56,1691.05 223.06,1690.95 224.56,1690.84 226.05,1690.74 227.55,1690.63 229.05,1690.53 230.54,1690.42 232.04,1690.31 233.54,1690.19 235.03,1690.08 236.53,1689.96 238.02,1689.84 239.52,1689.72 241.01,1689.59 242.51,1689.47 244,1689.34 245.5,1689.21 246.99,1689.07 248.49,1688.93 249.98,1688.79 251.47,1688.65 252.97,1688.5 254.46,1688.35 255.95,1688.2 257.44,1688.04 258.93,1687.88 260.42,1687.71 261.91,1687.54 263.41,1687.37 264.89,1687.2 266.38,1687.02 267.87,1686.83 269.36,1686.64 270.85,1686.45 272.34,1686.25 273.82,1686.05 275.31,1685.84 276.79,1685.63 278.28,1685.41 279.76,1685.19 281.24,1684.97 282.72,1684.73 284.2,1684.5 285.68,1684.25 287.16,1684.01 288.64,1683.75 290.11,1683.49 291.59,1683.22 293.06,1682.95 294.53,1682.67 296,1682.39 297.47,1682.1 298.93,1681.8 300.4,1681.5 301.86,1681.18 303.33,1680.87 304.79,1680.54 306.24,1680.21 307.7,1679.87 309.15,1679.52 310.61,1679.17 312.06,1678.81 313.51,1678.44 314.95,1678.06 316.4,1677.67 317.84,1677.28 319.28,1676.88 320.72,1676.47 322.15,1676.05 323.58,1675.63 325.01,1675.19 326.44,1674.75 327.87,1674.29 329.29,1673.83 330.71,1673.36 332.13,1672.88 333.54,1672.39 334.95,1671.89 336.36,1671.38 337.76,1670.87 339.17,1670.34 340.57,1669.8 341.96,1669.25 343.36,1668.7 344.75,1668.13 346.13,1667.55 347.52,1666.96 348.9,1666.36 350.27,1665.75 351.65,1665.13 353.02,1664.5 354.38,1663.86 355.74,1663.2 357.1,1662.54 358.44,1661.86 359.79,1661.18 361.13,1660.48 362.46,1659.76 363.78,1659.04 365.1,1658.31 366.41,1657.56 367.71,1656.8 369.01,1656.03 370.3,1655.24 371.57,1654.45 372.84,1653.64 374.1,1652.81 375.36,1651.98 376.6,1651.13 377.83,1650.27 379.05,1649.39 380.26,1648.51 381.46,1647.6 382.65,1646.69 383.82,1645.76 384.99,1644.81 386.14,1643.86 387.28,1642.89 388.4,1641.9 389.52,1640.9 390.61,1639.88 391.7,1638.86 392.77,1637.81 393.83,1636.75 394.87,1635.68 395.9,1634.6 396.92,1633.5 397.93,1632.39 398.92,1631.26 399.9,1630.13 400.87,1628.98 401.82,1627.83 402.77,1626.66 403.7,1625.49 404.62,1624.3 405.53,1623.11 406.43,1621.9 407.32,1620.69 408.2,1619.47 409.07,1618.25 409.93,1617.02 410.79,1615.78 411.63,1614.53 412.46,1613.28 413.29,1612.03 414.11,1610.77 414.92,1609.51 415.72,1608.24 416.51,1606.97 417.3,1605.69 418.07,1604.42 418.84,1603.13 419.61,1601.85 420.36,1600.56 421.11,1599.26 421.85,1597.97 422.59,1596.66 423.31,1595.36 424.03,1594.05 424.75,1592.74 425.45,1591.42 426.15,1590.11 426.84,1588.78 427.53,1587.46 428.21,1586.13 428.88,1584.8 429.55,1583.46 430.21,1582.13 430.87,1580.79 431.51,1579.44 432.16,1578.09 432.79,1576.74 433.42,1575.39 434.05,1574.04 434.67,1572.68 435.28,1571.32 435.89,1569.95 436.49,1568.59 437.09,1567.22 437.68,1565.85 438.27,1564.47 438.85,1563.1 439.43,1561.72 440,1560.33 440.57,1558.95 441.13,1557.56 441.69,1556.18 442.25,1554.79 442.79,1553.39 443.34,1552 443.88,1550.6 444.42,1549.2 444.95,1547.8 445.48,1546.4 446,1545 446.52,1543.59 447.04,1542.18 447.55,1540.77 448.06,1539.36 448.57,1537.95 449.07,1536.53 449.57,1535.12 450.06,1533.7 450.56,1532.28 451.05,1530.86 451.53,1529.44 452.02,1528.02 452.5,1526.59 452.97,1525.17 453.45,1523.74 453.92,1522.31 454.39,1520.88 454.86,1519.45 455.32,1518.02 455.79,1516.59 456.25,1515.16 456.71,1513.72 457.16,1512.29 457.62,1510.85 458.07,1509.42 458.52,1507.98 458.97,1506.54 459.42,1505.11 459.87,1503.67 460.31,1502.23 460.75,1500.79 461.2,1499.35 461.64,1497.91 462.08,1496.47 462.52,1495.03 462.95,1493.59 463.39,1492.15 463.83,1490.71 464.26,1489.27 464.7,1487.83 465.13,1486.38 465.57,1484.94 466,1483.5 466.43,1482.06 466.87,1480.62 467.3,1479.18 467.73,1477.74 468.16,1476.3 468.59,1474.86 469.02,1473.41 469.45,1471.97 469.88,1470.53 470.31,1469.09 470.74,1467.65 471.18,1466.22 471.61,1464.78 472.04,1463.34 472.47,1461.9 472.9,1460.46 473.33,1459.02 473.77,1457.59 474.2,1456.15 474.63,1454.71 475.07,1453.28 475.5,1451.84 475.94,1450.41 476.37,1448.98 476.81,1447.54 477.25,1446.11 477.69,1444.68 478.13,1443.25 478.57,1441.82 479.01,1440.39 479.45,1438.96 479.9,1437.53 480.34,1436.11 480.79,1434.68 481.24,1433.26 481.68,1431.83 482.14,1430.41 482.59,1428.99 483.04,1427.57 483.5,1426.15 483.96,1424.73 484.41,1423.31 484.87,1421.89 485.34,1420.48 485.8,1419.06 486.27,1417.65 486.74,1416.24 487.21,1414.83 487.68,1413.42 488.15,1412.01 488.63,1410.6 489.11,1409.2 489.59,1407.79 490.08,1406.39 490.56,1404.99 491.05,1403.59 491.54,1402.19 492.04,1400.8 492.53,1399.4 493.03,1398.01 493.54,1396.62 494.05,1395.23 494.57,1393.84 495.11,1392.46 495.67,1391.08 496.25,1389.7 496.85,1388.33 497.49,1386.96 498.16,1385.6 498.87,1384.24 499.62,1382.89 500.42,1381.54 501.27,1380.2 502.17,1378.87 503.13,1377.56 504.13,1376.28 505.18,1375.07 506.27,1373.94 507.4,1372.93 508.56,1372.05 509.75,1371.33 510.96,1370.8 512.18,1370.47 513.43,1370.35 514.71,1370.43 516.02,1370.69 517.37,1371.12 518.77,1371.72 520.23,1372.46 521.71,1373.23 523.14,1373.83 524.48,1374.06 525.7,1373.91 526.83,1373.43 527.85,1372.66 528.8,1371.65 529.67,1370.46 530.48,1369.13 531.24,1367.7 531.95,1366.24 532.62,1364.78 533.26,1363.32 533.87,1361.87 534.45,1360.42 534.99,1358.98 535.51,1357.54 536.01,1356.11 536.48,1354.68 536.93,1353.25 537.36,1351.82 537.77,1350.4 538.16,1348.98 538.54,1347.55 538.91,1346.13 539.26,1344.71 539.6,1343.28 539.94,1341.85 540.27,1340.43 540.59,1338.99 540.91,1337.56 541.23,1336.12 541.55,1334.68 541.87,1333.24 542.2,1331.78 542.53,1330.33 542.87,1328.86 543.21,1327.39 543.57,1325.92 543.94,1324.43 544.32,1322.95 544.71,1321.46 545.11,1319.97 545.52,1318.49 545.95,1317.01 546.39,1315.54 546.84,1314.07 547.3,1312.62 547.78,1311.18 548.27,1309.75 548.77,1308.35 549.29,1306.96 549.82,1305.59 550.36,1304.25 550.92,1302.93 551.48,1301.63 552.04,1300.32 552.6,1298.99 553.13,1297.61 553.64,1296.18 554.12,1294.68 554.55,1293.08 554.94,1291.39 555.31,1289.64 555.69,1287.9 556.1,1286.19 556.57,1284.57 557.12,1283.08 557.77,1281.77 558.56,1280.68 559.5,1279.86 560.62,1279.34 561.93,1279.18 563.37,1279.34 564.88,1279.77 566.36,1280.45 567.74,1281.32 568.94,1282.35 569.93,1283.5 570.7,1284.76 571.3,1286.11 571.75,1287.53 572.09,1289.02 572.33,1290.55 572.51,1292.11 572.66,1293.69 572.8,1295.27 572.97,1296.83 573.2,1298.37 573.48,1299.88 573.82,1301.36 574.2,1302.82 574.64,1304.25 575.1,1305.67 575.61,1307.07 576.14,1308.46 576.69,1309.85 577.27,1311.22 577.86,1312.59 578.47,1313.95 579.09,1315.31 579.72,1316.66 580.35,1318.01 580.99,1319.36 581.64,1320.71 582.28,1322.06 582.92,1323.41 583.55,1324.77 584.17,1326.12 584.78,1327.49 585.38,1328.85 585.96,1330.23 586.52,1331.61 587.06,1333 587.57,1334.4 588.06,1335.8 588.52,1337.22 588.96,1338.65 589.38,1340.08 589.79,1341.52 590.17,1342.97 590.54,1344.42 590.89,1345.88 591.24,1347.34 591.56,1348.81 591.88,1350.28 592.19,1351.75 592.5,1353.23 592.79,1354.7 593.09,1356.18 593.38,1357.66 593.67,1359.14 593.95,1360.62 594.24,1362.1 594.54,1363.58 594.83,1365.05 595.12,1366.53 595.42,1368 595.71,1369.48 596.01,1370.95 596.31,1372.42 596.61,1373.9 596.91,1375.37 597.22,1376.84 597.52,1378.31 597.83,1379.78 598.14,1381.24 598.44,1382.71 598.76,1384.18 599.07,1385.64 599.38,1387.11 599.7,1388.57 600.01,1390.04 600.33,1391.5 600.65,1392.96 600.97,1394.43 601.29,1395.89 601.62,1397.35 601.94,1398.81 602.27,1400.27 602.6,1401.73 602.93,1403.19 603.26,1404.64 603.59,1406.1 603.93,1407.56 604.26,1409.02 604.6,1410.47 604.94,1411.93 605.28,1413.38 605.63,1414.84 605.97,1416.29 606.32,1417.75 606.67,1419.2 607.02,1420.65 607.37,1422.11 607.72,1423.56 608.08,1425.01 608.43,1426.46 608.79,1427.91 609.15,1429.36 609.51,1430.81 609.88,1432.27 610.24,1433.72 610.61,1435.17 610.98,1436.62 611.35,1438.06 611.73,1439.51 612.1,1440.96 612.48,1442.41 612.86,1443.86 613.24,1445.31 613.62,1446.76 614.01,1448.21 614.39,1449.65 614.78,1451.1 615.17,1452.55 615.57,1454 615.96,1455.44 616.36,1456.89 616.76,1458.34 617.16,1459.79 617.56,1461.23 617.97,1462.68 618.37,1464.13 618.78,1465.58 619.19,1467.02 619.61,1468.47 620.03,1469.92 620.44,1471.36 620.87,1472.81 621.29,1474.25 621.72,1475.7 622.15,1477.14 622.58,1478.58 623.02,1480.02 623.46,1481.47 623.9,1482.91 624.34,1484.34 624.79,1485.78 625.24,1487.22 625.7,1488.66 626.16,1490.09 626.62,1491.53 627.08,1492.96 627.55,1494.39 628.03,1495.82 628.5,1497.25 628.99,1498.68 629.47,1500.1 629.96,1501.53 630.45,1502.95 630.95,1504.37 631.45,1505.79 631.96,1507.2 632.47,1508.62 632.99,1510.03 633.5,1511.44 634.03,1512.85 634.56,1514.26 635.09,1515.66 635.63,1517.07 636.18,1518.47 636.72,1519.86 637.28,1521.26 637.84,1522.65 638.4,1524.04 638.97,1525.43 639.55,1526.81 640.13,1528.2 640.71,1529.58 641.3,1530.95 641.9,1532.33 642.5,1533.7 643.11,1535.06 643.73,1536.43 644.35,1537.79 644.98,1539.15 645.61,1540.51 646.25,1541.86 646.89,1543.21 647.55,1544.55 648.2,1545.89 648.87,1547.23 649.54,1548.57 650.22,1549.9 650.9,1551.22 651.59,1552.55 652.29,1553.87 653,1555.18 653.71,1556.5 654.43,1557.8 655.15,1559.11 655.89,1560.41 656.63,1561.7 657.38,1563 658.13,1564.28 658.9,1565.57 659.67,1566.85 660.45,1568.12 661.23,1569.39 662.03,1570.66 662.83,1571.92 663.64,1573.17 664.46,1574.42 665.28,1575.67 666.12,1576.91 666.96,1578.15 667.81,1579.38 668.67,1580.61 669.54,1581.83 670.41,1583.05 671.3,1584.26 672.19,1585.46 673.09,1586.66 674,1587.86 674.92,1589.05 675.85,1590.23 676.78,1591.41 677.73,1592.58 678.68,1593.75 679.64,1594.9 680.61,1596.06 681.58,1597.2 682.57,1598.34 683.56,1599.47 684.56,1600.6 685.57,1601.72 686.59,1602.83 687.62,1603.93 688.65,1605.03 689.69,1606.12 690.74,1607.2 691.8,1608.27 692.86,1609.33 693.94,1610.39 695.02,1611.44 696.1,1612.48 697.2,1613.51 698.3,1614.53 699.42,1615.55 700.53,1616.55 701.66,1617.55 702.8,1618.54 703.94,1619.51 705.09,1620.48 706.24,1621.44 707.41,1622.39 708.58,1623.33 709.76,1624.26 710.95,1625.18 712.14,1626.09 713.34,1626.99 714.55,1627.88 715.76,1628.76 716.99,1629.62 718.22,1630.48 719.45,1631.33 720.7,1632.16 721.95,1632.98 723.21,1633.8 724.47,1634.6 725.74,1635.39 727.02,1636.16 728.31,1636.93 729.6,1637.68 730.9,1638.43 732.21,1639.16 733.52,1639.87 734.84,1640.58 736.17,1641.27 737.5,1641.96 738.84,1642.63 740.18,1643.29 741.53,1643.94 742.89,1644.57 744.25,1645.2 745.62,1645.82 746.99,1646.42 748.37,1647.02 749.75,1647.61 751.13,1648.18 752.52,1648.75 753.92,1649.3 755.32,1649.85 756.72,1650.39 758.13,1650.92 759.54,1651.44 760.96,1651.95 762.37,1652.46 763.79,1652.95 765.22,1653.44 766.65,1653.92 768.08,1654.39 769.51,1654.85 770.94,1655.31 772.38,1655.76 773.82,1656.2 775.26,1656.64 776.71,1657.06 778.15,1657.49 779.6,1657.9 781.05,1658.31 782.5,1658.71 783.95,1659.11 785.4,1659.5 786.85,1659.89 788.3,1660.27 789.76,1660.64 791.21,1661.01 792.67,1661.38 794.12,1661.74 795.58,1662.09 797.04,1662.44 798.5,1662.78 799.96,1663.11 801.42,1663.44 802.89,1663.77 804.35,1664.09 805.81,1664.4 807.28,1664.71 808.74,1665.02 810.21,1665.32 811.68,1665.61 813.15,1665.9 814.62,1666.18 816.09,1666.46 817.56,1666.73 819.03,1667 820.51,1667.26 821.98,1667.52 823.46,1667.77 824.93,1668.02 826.41,1668.26 827.89,1668.5 829.36,1668.74 830.84,1668.96 832.32,1669.19 833.8,1669.4 835.29,1669.62 836.77,1669.83 838.25,1670.03 839.74,1670.23 841.22,1670.42 842.71,1670.61 844.2,1670.8 845.68,1670.98 847.17,1671.16 848.66,1671.33 850.15,1671.49 851.64,1671.66 853.14,1671.81 854.63,1671.97 856.12,1672.12 857.62,1672.26 859.11,1672.4 860.61,1672.54 862.11,1672.67 863.61,1672.79 865.1,1672.92 866.6,1673.04 868.1,1673.15 869.6,1673.26 871.11,1673.37" fill="none" stroke="#0f0" stroke-width="3" stroke-dasharray="13.3 14" stroke-dashoffset="0"/>
<path d="M104.52 1705.6V1699.2M136.04 1705.6V1693.2M167.56 1705.6V1699.2M199.08 1705.6V1693.2M230.6 1705.6V1699.2M262.12 1705.6V1693.2M293.63 1705.6V1699.2M325.15 1705.6V1693.2M356.67 1705.6V1699.2M388.19 1705.6V1693.2M419.71 1705.6V1699.2M451.23 1705.6V1693.2M482.75 1705.6V1699.2M514.27 1705.6V1693.2M545.79 1705.6V1699.2M577.31 1705.6V1693.2M608.83 1705.6V1699.2M640.35 1705.6V1693.2M671.87 1705.6V1699.2M703.38 1705.6V1693.2M734.9 1705.6V1699.2M766.42 1705.6V1693.2M797.94 1705.6V1699.2M829.46 1705.6V1693.2M860.98 1705.6V1699.2M73 1680.72H79M73 1655.84H84.9M73 1630.97H79M73 1606.09H84.9M73 1581.21H79M73 1556.33H84.9M73 1531.46H79M73 1506.58H84.9M73 1481.7H79M73 1456.82H84.9M73 1431.94H79M73 1407.07H84.9M73 1382.19H79M73 1357.31H84.9M73 1332.43H79M73 1307.56H84.9M73 1282.68H79" stroke="#000" stroke-width="1.7" fill="none"/>
<rect x="73" y="1257.8" width="819.5" height="447.8" fill="none" stroke="#000" stroke-width="1.7"/>
<text x="49.32" y="1736.1" class="s" font-size="23">-140</text>
<text x="112.33" y="1736.1" class="s" font-size="23">-120</text>
<text x="175.34" y="1736.1" class="s" font-size="23">-100</text>
<text x="244.75" y="1736.1" class="s" font-size="23">-80</text>
<text x="307.76" y="1736.1" class="s" font-size="23">-60</text>
<text x="370.77" y="1736.1" class="s" font-size="23">-40</text>
<text x="433.78" y="1736.1" class="s" font-size="23">-20</text>
<text x="507.07" y="1736.1" class="s" font-size="23">0</text>
<text x="563.77" y="1736.1" class="s" font-size="23">20</text>
<text x="627.3" y="1736.1" class="s" font-size="23">40</text>
<text x="690.22" y="1736.1" class="s" font-size="23">60</text>
<text x="753.51" y="1736.1" class="s" font-size="23">80</text>
<text x="809.95" y="1736.1" class="s" font-size="23">100</text>
<text x="873.17" y="1736.1" class="s" font-size="23">120</text>
<text x="48.47" y="1711.75" class="s" font-size="23">0</text>
<text x="48.7" y="1661.99" class="s" font-size="23">2</text>
<text x="48.24" y="1612.24" class="s" font-size="23">4</text>
<text x="48.54" y="1562.48" class="s" font-size="23">6</text>
<text x="48.54" y="1512.73" class="s" font-size="23">8</text>
<text x="35.66" y="1462.97" class="s" font-size="23">10</text>
<text x="35.89" y="1413.22" class="s" font-size="23">12</text>
<text x="35.43" y="1363.46" class="s" font-size="23">14</text>
<text x="35.74" y="1313.71" class="s" font-size="23">16</text>
<text x="35.74" y="1263.95" class="s" font-size="23">18</text>
<text x="387.21" y="1772.2" class="r" font-size="28.39">Crankangle (ºCA)</text>
<text transform="translate(26.3 1600.72) rotate(-90)" class="r" font-size="28.91">Mean pressure (MPa)</text>
<path d="M135 1287.1H202.7" stroke="#f00" stroke-width="3"/>
<path d="M135 1322.9H202.7" stroke="#0f0" stroke-width="3" stroke-dasharray="13.3 14"/>
<text x="207.4" y="1292.3" class="r" font-size="28.73">Calculated value</text>
<text x="206.88" y="1334.5" class="r" font-size="28.73">Experimental value</text>
<text x="327.3" y="1842.2" class="r c" font-size="49.58">(c) 75%Load</text>
<polyline points="90.77,2319.24 92.28,2319.24 93.78,2319.24 95.28,2319.23 96.78,2319.23 98.29,2319.23 99.79,2319.22 101.29,2319.22 102.79,2319.21 104.29,2319.2 105.79,2319.2 107.29,2319.19 108.79,2319.18 110.29,2319.17 111.8,2319.15 113.3,2319.14 114.8,2319.13 116.3,2319.11 117.8,2319.09 119.3,2319.08 120.8,2319.06 122.29,2319.04 123.79,2319.02 125.29,2318.99 126.79,2318.97 128.29,2318.95 129.79,2318.92 131.29,2318.9 132.79,2318.87 134.29,2318.84 135.78,2318.81 137.28,2318.78 138.78,2318.75 140.28,2318.72 141.78,2318.68 143.28,2318.65 144.77,2318.61 146.27,2318.57 147.77,2318.53 149.27,2318.49 150.76,2318.45 152.26,2318.41 153.76,2318.37 155.25,2318.32 156.75,2318.28 158.25,2318.23 159.75,2318.18 161.24,2318.13 162.74,2318.08 164.24,2318.03 165.73,2317.97 167.23,2317.92 168.73,2317.86 170.22,2317.81 171.72,2317.75 173.21,2317.69 174.71,2317.63 176.21,2317.57 177.7,2317.5 179.2,2317.44 180.69,2317.37 182.19,2317.31 183.69,2317.24 185.18,2317.17 186.68,2317.1 188.17,2317.02 189.67,2316.95 191.17,2316.87 192.66,2316.8 194.16,2316.72 195.65,2316.64 197.15,2316.56 198.64,2316.48 200.14,2316.39 201.63,2316.31 203.13,2316.22 204.63,2316.13 206.12,2316.04 207.62,2315.95 209.11,2315.86 210.61,2315.77 212.1,2315.67 213.6,2315.58 215.09,2315.48 216.59,2315.38 218.09,2315.28 219.58,2315.18 221.08,2315.07 222.57,2314.97 224.07,2314.86 225.56,2314.75 227.06,2314.64 228.55,2314.53 230.05,2314.42 231.55,2314.31 233.04,2314.19 234.54,2314.07 236.03,2313.95 237.53,2313.83 239.02,2313.71 240.52,2313.59 242.02,2313.46 243.51,2313.34 245.01,2313.21 246.5,2313.08 248,2312.95 249.5,2312.82 250.99,2312.68 252.49,2312.54 253.99,2312.41 255.48,2312.26 256.98,2312.12 258.47,2311.98 259.97,2311.83 261.46,2311.68 262.96,2311.52 264.45,2311.36 265.94,2311.2 267.44,2311.04 268.93,2310.87 270.42,2310.7 271.91,2310.53 273.4,2310.35 274.89,2310.17 276.38,2309.99 277.87,2309.8 279.36,2309.6 280.84,2309.4 282.33,2309.2 283.82,2308.99 285.3,2308.78 286.78,2308.56 288.26,2308.34 289.74,2308.11 291.22,2307.88 292.7,2307.64 294.18,2307.4 295.65,2307.15 297.13,2306.9 298.6,2306.63 300.07,2306.37 301.54,2306.09 303.01,2305.81 304.48,2305.53 305.95,2305.23 307.41,2304.93 308.87,2304.63 310.33,2304.31 311.79,2303.99 313.25,2303.67 314.7,2303.33 316.16,2302.99 317.61,2302.64 319.06,2302.28 320.5,2301.91 321.95,2301.54 323.39,2301.16 324.83,2300.77 326.27,2300.37 327.71,2299.96 329.14,2299.54 330.57,2299.12 332,2298.68 333.43,2298.24 334.86,2297.79 336.28,2297.33 337.7,2296.86 339.11,2296.38 340.53,2295.89 341.94,2295.39 343.35,2294.88 344.76,2294.36 346.16,2293.83 347.56,2293.29 348.96,2292.73 350.35,2292.17 351.75,2291.6 353.13,2291.02 354.52,2290.42 355.89,2289.82 357.27,2289.2 358.64,2288.57 360,2287.93 361.36,2287.28 362.71,2286.61 364.05,2285.94 365.39,2285.25 366.72,2284.55 368.05,2283.84 369.36,2283.11 370.67,2282.37 371.97,2281.62 373.27,2280.85 374.55,2280.08 375.82,2279.29 377.09,2278.48 378.34,2277.66 379.59,2276.83 380.83,2275.98 382.05,2275.12 383.26,2274.25 384.47,2273.36 385.66,2272.45 386.84,2271.54 388.01,2270.6 389.16,2269.65 390.3,2268.69 391.43,2267.71 392.55,2266.72 393.65,2265.71 394.75,2264.68 395.82,2263.65 396.89,2262.59 397.94,2261.53 398.98,2260.45 400.01,2259.36 401.03,2258.26 402.03,2257.14 403.02,2256.02 404.01,2254.88 404.98,2253.73 405.93,2252.57 406.88,2251.4 407.82,2250.22 408.74,2249.04 409.66,2247.84 410.56,2246.64 411.45,2245.42 412.34,2244.2 413.21,2242.97 414.07,2241.74 414.93,2240.5 415.77,2239.25 416.6,2238 417.43,2236.74 418.24,2235.48 419.05,2234.21 419.84,2232.93 420.63,2231.66 421.41,2230.38 422.18,2229.09 422.94,2227.8 423.69,2226.51 424.44,2225.21 425.17,2223.91 425.9,2222.61 426.62,2221.3 427.34,2219.99 428.04,2218.67 428.74,2217.35 429.43,2216.03 430.12,2214.7 430.8,2213.38 431.47,2212.04 432.13,2210.71 432.79,2209.37 433.44,2208.03 434.09,2206.68 434.73,2205.34 435.36,2203.98 435.99,2202.63 436.61,2201.28 437.23,2199.92 437.84,2198.56 438.45,2197.19 439.05,2195.82 439.64,2194.46 440.24,2193.08 440.82,2191.71 441.41,2190.33 441.99,2188.96 442.56,2187.58 443.13,2186.19 443.7,2184.81 444.26,2183.42 444.82,2182.04 445.38,2180.65 445.93,2179.25 446.48,2177.86 447.03,2176.47 447.58,2175.07 448.12,2173.67 448.66,2172.27 449.2,2170.87 449.73,2169.47 450.26,2168.06 450.8,2166.66 451.33,2165.25 451.85,2163.85 452.38,2162.44 452.91,2161.03 453.43,2159.62 453.95,2158.21 454.47,2156.8 455,2155.39 455.52,2153.97 456.04,2152.56 456.55,2151.15 457.07,2149.73 457.59,2148.32 458.1,2146.9 458.62,2145.48 459.13,2144.07 459.64,2142.65 460.15,2141.23 460.66,2139.81 461.17,2138.4 461.67,2136.98 462.18,2135.56 462.68,2134.14 463.18,2132.72 463.68,2131.3 464.18,2129.88 464.68,2128.46 465.18,2127.04 465.67,2125.62 466.16,2124.2 466.65,2122.77 467.14,2121.35 467.63,2119.93 468.12,2118.51 468.6,2117.09 469.08,2115.67 469.56,2114.25 470.04,2112.83 470.51,2111.41 470.99,2109.99 471.46,2108.57 471.93,2107.15 472.4,2105.73 472.86,2104.31 473.33,2102.89 473.79,2101.48 474.24,2100.06 474.7,2098.64 475.16,2097.22 475.61,2095.81 476.06,2094.39 476.5,2092.98 476.95,2091.56 477.39,2090.15 477.84,2088.73 478.28,2087.32 478.72,2085.9 479.16,2084.49 479.6,2083.08 480.04,2081.66 480.48,2080.25 480.92,2078.84 481.37,2077.42 481.81,2076.01 482.25,2074.59 482.7,2073.18 483.14,2071.77 483.59,2070.35 484.04,2068.94 484.49,2067.52 484.95,2066.1 485.4,2064.69 485.86,2063.27 486.33,2061.85 486.79,2060.43 487.26,2059.01 487.74,2057.59 488.22,2056.17 488.7,2054.75 489.19,2053.33 489.68,2051.9 490.18,2050.48 490.68,2049.05 491.19,2047.63 491.7,2046.2 492.22,2044.77 492.75,2043.34 493.28,2041.91 493.82,2040.48 494.36,2039.04 494.92,2037.61 495.48,2036.17 496.05,2034.73 496.62,2033.29 497.21,2031.85 497.81,2030.42 498.42,2029 499.05,2027.59 499.71,2026.2 500.38,2024.83 501.08,2023.49 501.82,2022.18 502.58,2020.9 503.37,2019.66 504.21,2018.47 505.08,2017.32 506,2016.22 506.96,2015.18 507.96,2014.2 509.02,2013.28 510.13,2012.42 511.29,2011.65 512.5,2010.99 513.75,2010.44 515.03,2010.04 516.35,2009.81 517.69,2009.76 519.05,2009.92 520.42,2010.3 521.81,2010.93 523.19,2011.71 524.53,2012.37 525.8,2012.67 526.96,2012.5 528.01,2011.93 528.91,2011.03 529.67,2009.89 530.29,2008.53 530.8,2007.01 531.22,2005.37 531.57,2003.66 531.89,2001.91 532.19,2000.18 532.48,1998.5 532.8,1996.89 533.12,1995.34 533.45,1993.84 533.79,1992.38 534.14,1990.96 534.48,1989.56 534.83,1988.17 535.18,1986.78 535.52,1985.39 535.85,1983.99 536.19,1982.58 536.52,1981.16 536.84,1979.73 537.16,1978.29 537.48,1976.84 537.8,1975.39 538.11,1973.93 538.43,1972.47 538.74,1971 539.05,1969.53 539.36,1968.05 539.67,1966.57 539.98,1965.09 540.3,1963.61 540.61,1962.12 540.93,1960.64 541.24,1959.15 541.56,1957.67 541.89,1956.18 542.21,1954.7 542.54,1953.23 542.87,1951.75 543.21,1950.28 543.56,1948.82 543.9,1947.36 544.26,1945.9 544.62,1944.45 544.98,1943.01 545.36,1941.58 545.74,1940.15 546.13,1938.72 546.53,1937.3 546.94,1935.88 547.36,1934.46 547.79,1933.05 548.23,1931.64 548.69,1930.23 549.15,1928.82 549.64,1927.41 550.13,1926 550.65,1924.58 551.17,1923.17 551.72,1921.75 552.28,1920.34 552.86,1918.91 553.46,1917.49 554.07,1916.06 554.71,1914.62 555.37,1913.18 556.04,1911.73 556.74,1910.28 557.46,1908.82 558.21,1907.43 559.01,1906.25 559.85,1905.45 560.76,1905.16 561.74,1905.49 562.74,1906.28 563.72,1907.35 564.65,1908.54 565.51,1909.77 566.29,1911.05 567.02,1912.36 567.68,1913.7 568.3,1915.07 568.86,1916.47 569.39,1917.89 569.88,1919.33 570.33,1920.79 570.76,1922.26 571.17,1923.73 571.57,1925.22 571.95,1926.7 572.32,1928.19 572.69,1929.67 573.06,1931.15 573.42,1932.63 573.78,1934.1 574.13,1935.58 574.48,1937.05 574.83,1938.52 575.17,1939.99 575.51,1941.46 575.84,1942.92 576.18,1944.39 576.5,1945.85 576.83,1947.32 577.15,1948.78 577.47,1950.24 577.79,1951.7 578.1,1953.16 578.41,1954.62 578.72,1956.08 579.03,1957.54 579.33,1959 579.63,1960.46 579.93,1961.92 580.23,1963.38 580.53,1964.84 580.83,1966.3 581.12,1967.76 581.41,1969.22 581.7,1970.68 582,1972.14 582.28,1973.6 582.57,1975.07 582.86,1976.53 583.15,1978 583.44,1979.46 583.72,1980.93 584.01,1982.39 584.29,1983.86 584.58,1985.33 584.86,1986.8 585.15,1988.27 585.43,1989.74 585.72,1991.21 586,1992.68 586.29,1994.15 586.57,1995.62 586.86,1997.09 587.14,1998.56 587.43,2000.03 587.72,2001.51 588,2002.98 588.29,2004.45 588.58,2005.92 588.87,2007.4 589.16,2008.87 589.45,2010.34 589.74,2011.81 590.03,2013.29 590.32,2014.76 590.62,2016.23 590.91,2017.7 591.21,2019.17 591.51,2020.65 591.81,2022.12 592.11,2023.59 592.41,2025.06 592.72,2026.53 593.03,2028 593.33,2029.47 593.64,2030.94 593.96,2032.41 594.27,2033.88 594.59,2035.34 594.9,2036.81 595.22,2038.28 595.55,2039.74 595.87,2041.21 596.2,2042.67 596.53,2044.13 596.86,2045.6 597.19,2047.06 597.53,2048.52 597.87,2049.98 598.21,2051.44 598.56,2052.9 598.9,2054.36 599.25,2055.82 599.6,2057.27 599.96,2058.73 600.31,2060.19 600.67,2061.64 601.03,2063.09 601.4,2064.55 601.76,2066 602.13,2067.45 602.5,2068.9 602.88,2070.35 603.26,2071.8 603.64,2073.25 604.02,2074.7 604.4,2076.15 604.79,2077.59 605.18,2079.04 605.57,2080.48 605.97,2081.93 606.37,2083.37 606.77,2084.81 607.18,2086.25 607.58,2087.69 607.99,2089.13 608.41,2090.57 608.82,2092.01 609.24,2093.45 609.66,2094.88 610.09,2096.32 610.52,2097.75 610.95,2099.19 611.38,2100.62 611.82,2102.05 612.26,2103.48 612.7,2104.91 613.14,2106.34 613.59,2107.77 614.04,2109.2 614.5,2110.63 614.96,2112.05 615.42,2113.48 615.88,2114.9 616.35,2116.32 616.82,2117.75 617.29,2119.17 617.77,2120.59 618.25,2122.01 618.73,2123.43 619.22,2124.84 619.71,2126.26 620.2,2127.67 620.7,2129.09 621.2,2130.5 621.7,2131.92 622.21,2133.33 622.72,2134.74 623.23,2136.15 623.75,2137.56 624.27,2138.96 624.79,2140.37 625.32,2141.78 625.85,2143.18 626.38,2144.58 626.92,2145.99 627.46,2147.39 628,2148.79 628.55,2150.19 629.11,2151.58 629.66,2152.98 630.23,2154.37 630.79,2155.76 631.36,2157.15 631.94,2158.54 632.52,2159.92 633.1,2161.31 633.69,2162.69 634.29,2164.06 634.89,2165.44 635.5,2166.81 636.11,2168.18 636.72,2169.55 637.35,2170.91 637.97,2172.27 638.61,2173.63 639.25,2174.99 639.89,2176.34 640.55,2177.69 641.2,2179.03 641.87,2180.37 642.54,2181.71 643.22,2183.04 643.9,2184.37 644.6,2185.69 645.29,2187.01 646,2188.33 646.71,2189.64 647.43,2190.95 648.16,2192.25 648.9,2193.55 649.64,2194.85 650.39,2196.14 651.15,2197.42 651.92,2198.7 652.69,2199.97 653.47,2201.24 654.26,2202.51 655.06,2203.77 655.87,2205.02 656.69,2206.26 657.51,2207.51 658.35,2208.74 659.19,2209.97 660.04,2211.19 660.9,2212.41 661.77,2213.62 662.65,2214.83 663.54,2216.03 664.44,2217.22 665.35,2218.41 666.27,2219.58 667.2,2220.76 668.14,2221.92 669.09,2223.08 670.05,2224.23 671.02,2225.37 671.99,2226.51 672.98,2227.64 673.98,2228.76 674.99,2229.88 676,2230.98 677.03,2232.08 678.07,2233.17 679.11,2234.25 680.17,2235.33 681.23,2236.39 682.3,2237.45 683.38,2238.5 684.47,2239.54 685.57,2240.57 686.67,2241.59 687.79,2242.61 688.91,2243.61 690.04,2244.61 691.18,2245.59 692.32,2246.57 693.48,2247.53 694.64,2248.49 695.81,2249.44 696.98,2250.38 698.17,2251.3 699.36,2252.22 700.56,2253.13 701.76,2254.03 702.98,2254.91 704.2,2255.79 705.42,2256.65 706.66,2257.51 707.89,2258.35 709.14,2259.18 710.39,2260 711.65,2260.81 712.92,2261.61 714.19,2262.4 715.46,2263.18 716.75,2263.94 718.04,2264.69 719.33,2265.43 720.63,2266.16 721.93,2266.88 723.24,2267.59 724.56,2268.29 725.88,2268.97 727.21,2269.64 728.54,2270.31 729.88,2270.96 731.22,2271.6 732.56,2272.23 733.92,2272.86 735.27,2273.47 736.63,2274.07 738,2274.66 739.37,2275.24 740.74,2275.81 742.12,2276.38 743.5,2276.93 744.89,2277.47 746.28,2278 747.68,2278.53 749.08,2279.05 750.48,2279.55 751.89,2280.05 753.3,2280.54 754.71,2281.02 756.13,2281.49 757.55,2281.96 758.97,2282.41 760.4,2282.86 761.83,2283.3 763.27,2283.73 764.7,2284.15 766.14,2284.57 767.59,2284.98 769.03,2285.38 770.48,2285.77 771.93,2286.16 773.39,2286.53 774.84,2286.91 776.3,2287.27 777.77,2287.63 779.23,2287.98 780.7,2288.32 782.16,2288.66 783.63,2289 785.11,2289.32 786.58,2289.64 788.06,2289.95 789.53,2290.26 791.01,2290.56 792.49,2290.86 793.98,2291.15 795.46,2291.44 796.94,2291.71 798.43,2291.99 799.92,2292.26 801.41,2292.52 802.9,2292.78 804.39,2293.04 805.88,2293.29 807.37,2293.53 808.86,2293.77 810.36,2294.01 811.85,2294.24 813.35,2294.47 814.84,2294.7 816.34,2294.92 817.83,2295.13 819.33,2295.35 820.82,2295.56 822.32,2295.76 823.82,2295.96 825.31,2296.16 826.81,2296.36 828.3,2296.55 829.8,2296.74 831.29,2296.93 832.78,2297.12 834.28,2297.3 835.77,2297.48 837.26,2297.66 838.75,2297.83 840.24,2298.01 841.73,2298.18 843.22,2298.35 844.71,2298.52 846.19,2298.68 847.67,2298.85 849.16,2299.01 850.64,2299.17 852.12,2299.33 853.6,2299.49 855.07,2299.65 856.55,2299.81 858.02,2299.97 859.49,2300.13 860.96,2300.28 862.42,2300.44 863.89,2300.59 865.35,2300.75 866.81,2300.9 868.26,2301.06 869.72,2301.21 871.17,2301.37" fill="none" stroke="#f00" stroke-width="3.2" stroke-linejoin="round"/>
<polyline points="90.74,2319.07 92.25,2319.1 93.76,2319.13 95.27,2319.15 96.78,2319.17 98.29,2319.19 99.79,2319.21 101.3,2319.22 102.81,2319.23 104.31,2319.24 105.82,2319.25 107.32,2319.25 108.83,2319.26 110.33,2319.26 111.83,2319.25 113.34,2319.25 114.84,2319.24 116.34,2319.23 117.84,2319.22 119.34,2319.21 120.84,2319.2 122.34,2319.18 123.84,2319.16 125.34,2319.14 126.84,2319.11 128.34,2319.09 129.84,2319.06 131.34,2319.03 132.84,2319 134.33,2318.97 135.83,2318.94 137.33,2318.9 138.82,2318.86 140.32,2318.83 141.82,2318.78 143.31,2318.74 144.81,2318.7 146.31,2318.65 147.8,2318.6 149.3,2318.56 150.79,2318.51 152.29,2318.45 153.78,2318.4 155.28,2318.35 156.77,2318.29 158.27,2318.23 159.76,2318.18 161.26,2318.12 162.75,2318.05 164.25,2317.99 165.74,2317.93 167.24,2317.86 168.73,2317.8 170.22,2317.73 171.72,2317.66 173.21,2317.59 174.71,2317.52 176.2,2317.45 177.7,2317.38 179.19,2317.31 180.69,2317.23 182.18,2317.16 183.68,2317.08 185.17,2317.01 186.67,2316.93 188.16,2316.85 189.66,2316.77 191.15,2316.69 192.65,2316.61 194.15,2316.53 195.64,2316.45 197.14,2316.37 198.64,2316.29 200.13,2316.2 201.63,2316.12 203.13,2316.04 204.63,2315.95 206.12,2315.87 207.62,2315.78 209.12,2315.69 210.62,2315.61 212.12,2315.52 213.62,2315.44 215.12,2315.35 216.62,2315.26 218.12,2315.17 219.62,2315.08 221.12,2314.99 222.62,2314.9 224.12,2314.81 225.62,2314.71 227.13,2314.62 228.63,2314.52 230.13,2314.43 231.63,2314.33 233.13,2314.23 234.63,2314.12 236.13,2314.02 237.63,2313.91 239.13,2313.8 240.63,2313.69 242.13,2313.58 243.63,2313.46 245.13,2313.35 246.63,2313.22 248.13,2313.1 249.63,2312.98 251.13,2312.85 252.63,2312.71 254.12,2312.58 255.62,2312.44 257.12,2312.3 258.61,2312.16 260.11,2312.01 261.6,2311.86 263.09,2311.7 264.59,2311.54 266.08,2311.38 267.57,2311.21 269.06,2311.04 270.55,2310.87 272.04,2310.69 273.53,2310.5 275.02,2310.32 276.5,2310.12 277.99,2309.93 279.47,2309.72 280.96,2309.52 282.44,2309.31 283.92,2309.09 285.4,2308.87 286.88,2308.64 288.36,2308.41 289.83,2308.17 291.31,2307.93 292.78,2307.68 294.26,2307.42 295.73,2307.16 297.2,2306.9 298.67,2306.63 300.14,2306.35 301.6,2306.06 303.07,2305.77 304.53,2305.47 305.99,2305.17 307.45,2304.86 308.91,2304.54 310.37,2304.22 311.83,2303.89 313.28,2303.55 314.73,2303.2 316.18,2302.85 317.63,2302.49 319.08,2302.13 320.52,2301.75 321.97,2301.37 323.41,2300.98 324.85,2300.58 326.29,2300.18 327.72,2299.76 329.16,2299.34 330.59,2298.91 332.02,2298.47 333.45,2298.03 334.87,2297.57 336.29,2297.11 337.72,2296.64 339.14,2296.16 340.55,2295.67 341.97,2295.17 343.38,2294.66 344.79,2294.15 346.2,2293.62 347.6,2293.08 349.01,2292.54 350.41,2291.98 351.8,2291.42 353.2,2290.84 354.59,2290.26 355.97,2289.66 357.35,2289.06 358.73,2288.44 360.1,2287.81 361.46,2287.17 362.82,2286.51 364.17,2285.85 365.51,2285.17 366.85,2284.48 368.18,2283.78 369.5,2283.07 370.82,2282.34 372.13,2281.6 373.42,2280.84 374.71,2280.07 375.99,2279.29 377.26,2278.49 378.52,2277.68 379.76,2276.85 381,2276.01 382.23,2275.15 383.44,2274.28 384.64,2273.39 385.83,2272.49 387.01,2271.57 388.17,2270.63 389.32,2269.68 390.46,2268.71 391.58,2267.72 392.69,2266.71 393.79,2265.69 394.87,2264.66 395.94,2263.61 396.99,2262.54 398.03,2261.46 399.06,2260.37 400.08,2259.26 401.09,2258.14 402.08,2257.02 403.07,2255.88 404.04,2254.73 405,2253.57 405.95,2252.4 406.89,2251.22 407.82,2250.04 408.74,2248.85 409.66,2247.65 410.56,2246.45 411.45,2245.24 412.34,2244.02 413.21,2242.8 414.08,2241.57 414.94,2240.34 415.79,2239.1 416.63,2237.86 417.46,2236.61 418.28,2235.35 419.09,2234.09 419.9,2232.83 420.69,2231.56 421.48,2230.28 422.26,2229 423.03,2227.72 423.79,2226.43 424.54,2225.13 425.29,2223.83 426.02,2222.53 426.75,2221.22 427.47,2219.91 428.18,2218.59 428.88,2217.27 429.58,2215.94 430.26,2214.62 430.94,2213.28 431.61,2211.95 432.27,2210.6 432.93,2209.26 433.58,2207.91 434.22,2206.56 434.85,2205.21 435.48,2203.85 436.1,2202.49 436.72,2201.13 437.33,2199.76 437.94,2198.39 438.54,2197.02 439.13,2195.65 439.72,2194.27 440.31,2192.89 440.89,2191.51 441.47,2190.13 442.04,2188.75 442.61,2187.36 443.18,2185.97 443.74,2184.59 444.3,2183.19 444.86,2181.8 445.42,2180.41 445.97,2179.02 446.52,2177.62 447.07,2176.22 447.61,2174.83 448.16,2173.43 448.7,2172.03 449.24,2170.63 449.78,2169.23 450.32,2167.83 450.86,2166.43 451.39,2165.03 451.93,2163.63 452.46,2162.22 452.99,2160.82 453.51,2159.41 454.04,2158.01 454.56,2156.6 455.09,2155.2 455.61,2153.79 456.13,2152.38 456.65,2150.97 457.16,2149.56 457.68,2148.15 458.19,2146.74 458.7,2145.33 459.21,2143.92 459.72,2142.51 460.23,2141.09 460.73,2139.68 461.24,2138.27 461.74,2136.85 462.24,2135.44 462.74,2134.02 463.24,2132.6 463.73,2131.19 464.23,2129.77 464.72,2128.35 465.21,2126.94 465.7,2125.52 466.19,2124.1 466.68,2122.68 467.16,2121.26 467.65,2119.84 468.13,2118.42 468.61,2117 469.09,2115.58 469.57,2114.15 470.05,2112.73 470.52,2111.31 471,2109.89 471.47,2108.46 471.94,2107.04 472.41,2105.62 472.88,2104.19 473.35,2102.77 473.81,2101.34 474.28,2099.92 474.74,2098.49 475.2,2097.07 475.66,2095.64 476.12,2094.21 476.58,2092.79 477.04,2091.36 477.49,2089.93 477.95,2088.51 478.4,2087.08 478.85,2085.65 479.3,2084.23 479.75,2082.8 480.2,2081.37 480.65,2079.94 481.09,2078.51 481.54,2077.09 481.98,2075.66 482.42,2074.23 482.86,2072.8 483.3,2071.37 483.74,2069.94 484.18,2068.51 484.62,2067.08 485.06,2065.66 485.5,2064.23 485.94,2062.8 486.38,2061.38 486.83,2059.95 487.28,2058.53 487.74,2057.11 488.2,2055.69 488.67,2054.27 489.14,2052.85 489.62,2051.43 490.1,2050.02 490.6,2048.61 491.1,2047.2 491.61,2045.79 492.13,2044.39 492.66,2042.99 493.2,2041.59 493.75,2040.2 494.31,2038.81 494.89,2037.42 495.47,2036.04 496.08,2034.66 496.69,2033.28 497.32,2031.91 497.97,2030.54 498.63,2029.18 499.3,2027.82 500,2026.46 500.71,2025.11 501.44,2023.77 502.19,2022.43 502.96,2021.1 503.74,2019.77 504.55,2018.45 505.38,2017.14 506.24,2015.87 507.14,2014.66 508.08,2013.53 509.07,2012.5 510.12,2011.6 511.23,2010.85 512.4,2010.27 513.66,2009.87 514.99,2009.69 516.42,2009.74 517.91,2009.98 519.45,2010.33 521,2010.72 522.54,2011.05 524.04,2011.28 525.46,2011.36 526.78,2011.22 527.98,2010.83 529.03,2010.16 529.95,2009.25 530.76,2008.14 531.49,2006.87 532.14,2005.49 532.73,2004.04 533.3,2002.56 533.83,2001.08 534.35,1999.6 534.85,1998.11 535.32,1996.63 535.78,1995.14 536.22,1993.66 536.64,1992.17 537.05,1990.68 537.44,1989.2 537.82,1987.71 538.19,1986.23 538.55,1984.74 538.9,1983.26 539.23,1981.78 539.56,1980.3 539.89,1978.82 540.2,1977.34 540.52,1975.86 540.82,1974.39 541.13,1972.92 541.43,1971.45 541.74,1969.99 542.04,1968.53 542.35,1967.07 542.66,1965.61 542.97,1964.16 543.29,1962.71 543.61,1961.27 543.94,1959.83 544.28,1958.4 544.62,1956.97 544.98,1955.55 545.35,1954.13 545.73,1952.71 546.12,1951.31 546.53,1949.9 546.95,1948.51 547.38,1947.11 547.82,1945.72 548.28,1944.32 548.74,1942.93 549.21,1941.53 549.69,1940.13 550.18,1938.72 550.67,1937.3 551.16,1935.87 551.66,1934.43 552.15,1932.98 552.65,1931.51 553.15,1930.03 553.65,1928.53 554.15,1927.02 554.64,1925.48 555.13,1923.92 555.62,1922.34 556.11,1920.75 556.63,1919.19 557.19,1917.69 557.81,1916.25 558.5,1914.93 559.29,1913.73 560.18,1912.69 561.21,1911.84 562.36,1911.19 563.6,1910.78 564.89,1910.6 566.16,1910.67 567.37,1911.02 568.48,1911.64 569.47,1912.51 570.36,1913.61 571.16,1914.87 571.89,1916.28 572.55,1917.79 573.16,1919.37 573.72,1920.96 574.25,1922.55 574.77,1924.09 575.26,1925.59 575.73,1927.05 576.18,1928.49 576.62,1929.91 577.03,1931.32 577.42,1932.73 577.8,1934.15 578.15,1935.57 578.48,1937.01 578.8,1938.46 579.1,1939.92 579.4,1941.38 579.69,1942.85 579.97,1944.33 580.25,1945.81 580.52,1947.28 580.8,1948.76 581.09,1950.24 581.38,1951.71 581.67,1953.18 581.97,1954.65 582.28,1956.12 582.58,1957.59 582.89,1959.05 583.21,1960.51 583.53,1961.97 583.85,1963.43 584.17,1964.89 584.5,1966.35 584.83,1967.81 585.16,1969.26 585.5,1970.72 585.83,1972.17 586.17,1973.62 586.51,1975.08 586.85,1976.53 587.19,1977.98 587.54,1979.43 587.88,1980.89 588.23,1982.34 588.57,1983.79 588.92,1985.24 589.26,1986.7 589.61,1988.15 589.95,1989.6 590.29,1991.06 590.64,1992.51 590.98,1993.97 591.32,1995.43 591.66,1996.89 591.99,1998.34 592.33,1999.81 592.66,2001.27 592.99,2002.73 593.32,2004.2 593.65,2005.66 593.97,2007.13 594.29,2008.6 594.61,2010.07 594.93,2011.54 595.25,2013.01 595.56,2014.49 595.88,2015.96 596.19,2017.44 596.51,2018.91 596.82,2020.39 597.13,2021.86 597.45,2023.34 597.76,2024.81 598.07,2026.29 598.39,2027.77 598.7,2029.24 599.02,2030.72 599.34,2032.19 599.66,2033.67 599.98,2035.14 600.3,2036.61 600.62,2038.08 600.95,2039.55 601.28,2041.02 601.61,2042.49 601.94,2043.96 602.28,2045.42 602.62,2046.89 602.97,2048.35 603.31,2049.81 603.66,2051.27 604.02,2052.72 604.38,2054.18 604.74,2055.63 605.11,2057.08 605.48,2058.53 605.86,2059.97 606.25,2061.41 606.63,2062.85 607.03,2064.29 607.43,2065.72 607.83,2067.15 608.24,2068.58 608.65,2070.01 609.07,2071.44 609.49,2072.86 609.92,2074.28 610.35,2075.7 610.79,2077.12 611.23,2078.53 611.67,2079.95 612.12,2081.36 612.57,2082.78 613.02,2084.19 613.48,2085.6 613.94,2087.01 614.4,2088.42 614.87,2089.83 615.34,2091.23 615.81,2092.64 616.28,2094.05 616.76,2095.46 617.24,2096.87 617.72,2098.27 618.2,2099.68 618.69,2101.09 619.18,2102.5 619.67,2103.91 620.16,2105.32 620.65,2106.73 621.14,2108.14 621.64,2109.55 622.14,2110.97 622.63,2112.38 623.13,2113.8 623.63,2115.22 624.13,2116.64 624.64,2118.06 625.14,2119.47 625.65,2120.89 626.16,2122.32 626.67,2123.74 627.18,2125.16 627.7,2126.58 628.22,2128 628.74,2129.42 629.26,2130.84 629.78,2132.26 630.31,2133.68 630.85,2135.1 631.38,2136.51 631.92,2137.93 632.46,2139.35 633.01,2140.76 633.56,2142.17 634.11,2143.58 634.67,2144.99 635.23,2146.4 635.79,2147.81 636.36,2149.21 636.94,2150.62 637.52,2152.02 638.1,2153.42 638.69,2154.81 639.28,2156.2 639.88,2157.59 640.48,2158.98 641.09,2160.37 641.7,2161.75 642.32,2163.13 642.95,2164.5 643.58,2165.88 644.22,2167.25 644.86,2168.61 645.51,2169.97 646.16,2171.33 646.83,2172.68 647.5,2174.03 648.17,2175.38 648.85,2176.72 649.54,2178.06 650.24,2179.39 650.94,2180.72 651.65,2182.04 652.37,2183.36 653.09,2184.67 653.83,2185.98 654.57,2187.28 655.32,2188.58 656.07,2189.87 656.84,2191.15 657.61,2192.43 658.39,2193.71 659.18,2194.97 659.98,2196.24 660.79,2197.49 661.61,2198.74 662.43,2199.98 663.27,2201.22 664.11,2202.45 664.96,2203.67 665.83,2204.89 666.7,2206.1 667.58,2207.3 668.47,2208.49 669.37,2209.68 670.28,2210.86 671.2,2212.03 672.13,2213.2 673.07,2214.36 674.02,2215.51 674.98,2216.65 675.94,2217.78 676.92,2218.91 677.9,2220.03 678.89,2221.15 679.89,2222.25 680.9,2223.35 681.92,2224.44 682.95,2225.52 683.98,2226.6 685.02,2227.66 686.08,2228.72 687.14,2229.77 688.2,2230.82 689.28,2231.85 690.36,2232.88 691.45,2233.9 692.55,2234.91 693.66,2235.92 694.77,2236.91 695.9,2237.9 697.03,2238.88 698.16,2239.85 699.31,2240.82 700.46,2241.77 701.62,2242.72 702.78,2243.66 703.96,2244.59 705.13,2245.51 706.32,2246.42 707.51,2247.33 708.71,2248.22 709.92,2249.11 711.13,2249.99 712.35,2250.86 713.58,2251.72 714.81,2252.58 716.05,2253.42 717.3,2254.26 718.55,2255.09 719.8,2255.91 721.07,2256.72 722.34,2257.52 723.61,2258.31 724.89,2259.1 726.18,2259.87 727.47,2260.64 728.77,2261.39 730.07,2262.14 731.38,2262.88 732.69,2263.61 734.01,2264.33 735.33,2265.04 736.66,2265.74 737.99,2266.44 739.33,2267.12 740.67,2267.8 742.02,2268.46 743.37,2269.12 744.73,2269.76 746.09,2270.4 747.46,2271.03 748.83,2271.65 750.2,2272.26 751.58,2272.86 752.97,2273.45 754.35,2274.03 755.75,2274.6 757.14,2275.16 758.54,2275.71 759.94,2276.25 761.35,2276.78 762.76,2277.3 764.17,2277.82 765.59,2278.32 767.01,2278.81 768.43,2279.29 769.86,2279.77 771.29,2280.23 772.72,2280.68 774.16,2281.12 775.6,2281.55 777.04,2281.98 778.48,2282.39 779.93,2282.79 781.38,2283.18 782.83,2283.56 784.29,2283.94 785.74,2284.3 787.2,2284.65 788.67,2285 790.13,2285.33 791.6,2285.66 793.06,2285.98 794.53,2286.29 796,2286.59 797.48,2286.89 798.95,2287.18 800.43,2287.46 801.91,2287.74 803.39,2288.01 804.87,2288.27 806.35,2288.53 807.83,2288.78 809.32,2289.02 810.8,2289.26 812.29,2289.5 813.77,2289.73 815.26,2289.95 816.75,2290.18 818.24,2290.39 819.73,2290.61 821.22,2290.82 822.71,2291.02 824.2,2291.23 825.69,2291.43 827.18,2291.63 828.67,2291.82 830.16,2292.02 831.65,2292.21 833.14,2292.4 834.63,2292.59 836.12,2292.78 837.61,2292.97 839.1,2293.15 840.58,2293.34 842.07,2293.53 843.56,2293.71 845.04,2293.9 846.53,2294.09 848.01,2294.27 849.49,2294.46 850.97,2294.65 852.45,2294.85 853.93,2295.04 855.41,2295.24 856.88,2295.43 858.36,2295.63 859.83,2295.84 861.3,2296.04 862.77,2296.25 864.24,2296.47" fill="none" stroke="#0f0" stroke-width="3.2" stroke-dasharray="13.2 13.8" stroke-dashoffset="0"/>
<path d="M110.33 2328.4V2322.5M141.55 2328.4V2316.6M172.78 2328.4V2322.5M204.01 2328.4V2316.6M235.23 2328.4V2322.5M266.46 2328.4V2316.6M297.69 2328.4V2322.5M328.92 2328.4V2316.6M360.14 2328.4V2322.5M391.37 2328.4V2316.6M422.6 2328.4V2322.5M453.82 2328.4V2316.6M485.05 2328.4V2322.5M516.28 2328.4V2316.6M547.5 2328.4V2322.5M578.73 2328.4V2316.6M609.96 2328.4V2322.5M641.18 2328.4V2316.6M672.41 2328.4V2322.5M703.64 2328.4V2316.6M734.87 2328.4V2322.5M766.09 2328.4V2316.6M797.32 2328.4V2322.5M828.55 2328.4V2316.6M859.77 2328.4V2322.5M79.1 2303.76H85.3M79.1 2279.12H90.9M79.1 2254.48H85.3M79.1 2229.84H90.9M79.1 2205.21H85.3M79.1 2180.57H90.9M79.1 2155.93H85.3M79.1 2131.29H90.9M79.1 2106.65H85.3M79.1 2082.01H90.9M79.1 2057.37H85.3M79.1 2032.73H90.9M79.1 2008.09H85.3M79.1 1983.46H90.9M79.1 1958.82H85.3M79.1 1934.18H90.9M79.1 1909.54H85.3" stroke="#000" stroke-width="1.8" fill="none"/>
<rect x="79.1" y="1884.9" width="811.9" height="443.5" fill="none" stroke="#000" stroke-width="1.9"/>
<text x="55.42" y="2358.3" class="s" font-size="23">-140</text>
<text x="117.88" y="2358.3" class="s" font-size="23">-120</text>
<text x="180.33" y="2358.3" class="s" font-size="23">-100</text>
<text x="249.19" y="2358.3" class="s" font-size="23">-80</text>
<text x="311.64" y="2358.3" class="s" font-size="23">-60</text>
<text x="374.09" y="2358.3" class="s" font-size="23">-40</text>
<text x="436.55" y="2358.3" class="s" font-size="23">-20</text>
<text x="509.28" y="2358.3" class="s" font-size="23">0</text>
<text x="565.41" y="2358.3" class="s" font-size="23">20</text>
<text x="628.37" y="2358.3" class="s" font-size="23">40</text>
<text x="690.72" y="2358.3" class="s" font-size="23">60</text>
<text x="753.45" y="2358.3" class="s" font-size="23">80</text>
<text x="809.32" y="2358.3" class="s" font-size="23">100</text>
<text x="871.97" y="2358.3" class="s" font-size="23">120</text>
<text x="54.47" y="2334.65" class="s" font-size="23">0</text>
<text x="54.7" y="2285.37" class="s" font-size="23">2</text>
<text x="54.24" y="2236.09" class="s" font-size="23">4</text>
<text x="54.54" y="2186.82" class="s" font-size="23">6</text>
<text x="54.54" y="2137.54" class="s" font-size="23">8</text>
<text x="41.66" y="2088.26" class="s" font-size="23">10</text>
<text x="41.89" y="2038.98" class="s" font-size="23">12</text>
<text x="41.43" y="1989.71" class="s" font-size="23">14</text>
<text x="41.74" y="1940.43" class="s" font-size="23">16</text>
<text x="41.74" y="1891.15" class="s" font-size="23">18</text>
<text x="380.72" y="2393.3" class="r" font-size="28.21">Crankangle (ºCA)</text>
<text transform="translate(32.8 2225.41) rotate(-90)" class="r" font-size="28.55">Mean pressure (MPa)</text>
<path d="M129.5 1921H196.2" stroke="#f00" stroke-width="3.4"/>
<path d="M129.5 1956.5H196.2" stroke="#0f0" stroke-width="3.4" stroke-dasharray="13.2 13.8"/>
<text x="204.01" y="1926.3" class="r" font-size="28.47">Calculated value</text>
<text x="203.29" y="1967.8" class="r" font-size="28.44">Experimental value</text>
<text x="313.4" y="2466.5" class="r c" font-size="49.55">(d) 100%Load</text>
</svg>
</body></html>
